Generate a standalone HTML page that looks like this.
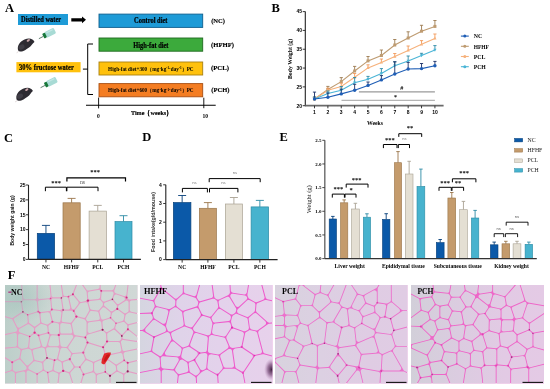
<!DOCTYPE html>
<html><head><meta charset="utf-8"><style>
html,body{margin:0;padding:0;background:#fff;}
svg{display:block;will-change:transform;}
</style></head><body>
<svg width="550" height="389" viewBox="0 0 550 389">
<rect width="550" height="389" fill="#fff"/>
<text x="5.00" y="11.60" font-size="12.5" font-family='"Liberation Serif", serif' font-weight="bold" fill="#000" text-anchor="start" >A</text>
<rect x="18.00" y="14.00" width="50.00" height="11.00" fill="#1E9BD7" />
<text x="21.00" y="22.10" font-size="7.3" font-family='"Liberation Serif", serif' font-weight="bold" fill="#000" text-anchor="start"  textLength="40.20" lengthAdjust="spacingAndGlyphs" stroke="#000" stroke-width="0.2">Distilled water</text>
<path d="M71.3,18.2 H82 V16.4 L86,19.8 L82,23.2 V21.5 H71.3 Z" fill="#000"/>
<rect x="99.00" y="14.10" width="103.70" height="13.30" fill="#1E9BD7" stroke="#0E5F8E" stroke-width="0.9" />
<text x="134.00" y="23.30" font-size="7.2" font-family='"Liberation Serif", serif' font-weight="bold" fill="#000" text-anchor="start"  textLength="33.50" lengthAdjust="spacingAndGlyphs" stroke="#000" stroke-width="0.2">Control diet</text>
<rect x="99.00" y="38.00" width="103.70" height="13.20" fill="#3CAA3C" stroke="#1F6A1F" stroke-width="0.9" />
<text x="133.30" y="47.50" font-size="7.2" font-family='"Liberation Serif", serif' font-weight="bold" fill="#000" text-anchor="start"  textLength="35.20" lengthAdjust="spacingAndGlyphs" stroke="#000" stroke-width="0.2">High-fat diet</text>
<rect x="99.00" y="62.00" width="103.70" height="13.00" fill="#FFC10D" stroke="#A88010" stroke-width="0.9" />
<text x="150.85" y="70.60" font-size="5.2" font-family='"Liberation Serif", serif' font-weight="bold" fill="#000" text-anchor="middle" >High-fat diet+300（mg·kg<tspan dy="-1.6" font-size="3.3">-1</tspan><tspan dy="1.6">·day</tspan><tspan dy="-1.6" font-size="3.3">-1</tspan><tspan dy="1.6">）PC</tspan></text>
<rect x="99.00" y="83.60" width="103.70" height="13.20" fill="#F47D22" stroke="#A84E12" stroke-width="0.9" />
<text x="150.85" y="92.40" font-size="5.2" font-family='"Liberation Serif", serif' font-weight="bold" fill="#000" text-anchor="middle" >High-fat diet+600（mg·kg<tspan dy="-1.6" font-size="3.3">-1</tspan><tspan dy="1.6">·day</tspan><tspan dy="-1.6" font-size="3.3">-1</tspan><tspan dy="1.6">）PC</tspan></text>
<text x="211.20" y="22.50" font-size="7.0" font-family='"Liberation Serif", serif' font-weight="bold" fill="#000" text-anchor="start"  textLength="13.80" lengthAdjust="spacingAndGlyphs" stroke="#000" stroke-width="0.15">(NC)</text>
<text x="211.00" y="47.30" font-size="7.0" font-family='"Liberation Serif", serif' font-weight="bold" fill="#000" text-anchor="start"  textLength="23.00" lengthAdjust="spacingAndGlyphs" stroke="#000" stroke-width="0.15">(HFHF)</text>
<text x="210.90" y="70.20" font-size="7.0" font-family='"Liberation Serif", serif' font-weight="bold" fill="#000" text-anchor="start"  textLength="18.20" lengthAdjust="spacingAndGlyphs" stroke="#000" stroke-width="0.15">(PCL)</text>
<text x="211.20" y="91.90" font-size="7.0" font-family='"Liberation Serif", serif' font-weight="bold" fill="#000" text-anchor="start"  textLength="18.30" lengthAdjust="spacingAndGlyphs" stroke="#000" stroke-width="0.15">(PCH)</text>
<rect x="16.40" y="62.10" width="64.20" height="10.20" fill="#FFC10D" />
<text x="19.10" y="69.80" font-size="7.4" font-family='"Liberation Serif", serif' font-weight="bold" fill="#000" text-anchor="start"  textLength="54.70" lengthAdjust="spacingAndGlyphs" stroke="#000" stroke-width="0.2">30% fructose water</text>
<path d="M93,44 H87.7 V94.5 H93 M82.9,69.1 H87.7" fill="none" stroke="#000" stroke-width="1"/>
<line x1="86.00" y1="105.20" x2="215.70" y2="105.20" stroke="#000" stroke-width="1.1" />
<line x1="98.60" y1="97.60" x2="98.60" y2="108.40" stroke="#000" stroke-width="0.9" />
<line x1="203.80" y1="97.70" x2="203.80" y2="108.20" stroke="#000" stroke-width="0.9" />
<text x="98.30" y="117.60" font-size="5.6" font-family='"Liberation Serif", serif' font-weight="bold" fill="#000" text-anchor="middle" >0</text>
<text x="205.30" y="117.70" font-size="5.6" font-family='"Liberation Serif", serif' font-weight="bold" fill="#000" text-anchor="middle" >10</text>
<text x="130.90" y="114.80" font-size="7.0" font-family='"Liberation Serif", serif' font-weight="bold" fill="#000" text-anchor="start"  textLength="41.50" lengthAdjust="spacingAndGlyphs" stroke="#000" stroke-width="0.15">Time（weeks）</text>
<g transform="translate(0.00,0.00)"><path d="M18.2,50.5 C16.8,46.5 19.5,41.8 24.5,39.6 C27.5,38.3 30.5,38.2 32.3,39.6 C33.5,40.3 34.3,41.2 34.4,41.9 C33.6,42.6 32.6,43.6 31.8,44.8 C30.5,46.8 28,48.5 25,50.2 C22.5,51.6 19.5,52.2 18.2,50.5 Z" fill="#2D2B32"/><ellipse cx="21.5" cy="47" rx="3.2" ry="2.4" fill="#4B4951" opacity="0.6" transform="rotate(-30 21.5 47)"/><ellipse cx="28.3" cy="40.4" rx="1.8" ry="1.1" fill="#C7A3A7" transform="rotate(-35 28.3 40.4)"/><path d="M18.6,51.4 L16.6,52.8" stroke="#cbbcbc" stroke-width="0.6"/></g>
<g transform="translate(44.50,35.60) rotate(-27)"><rect x="1.2" y="-3.1" width="10.4" height="6.2" rx="1.3" fill="#A8DBD5"/><rect x="3" y="-2.2" width="7" height="1.2" fill="#CDEDEA" opacity="0.7"/><rect x="-1.4" y="-2.6" width="3.0" height="5.2" rx="0.9" fill="#18783B"/><line x1="-1.4" y1="0.2" x2="-6.4" y2="0.2" stroke="#4C6E5E" stroke-width="0.8"/></g>
<g transform="translate(-1.50,49.20)"><path d="M18.2,50.5 C16.8,46.5 19.5,41.8 24.5,39.6 C27.5,38.3 30.5,38.2 32.3,39.6 C33.5,40.3 34.3,41.2 34.4,41.9 C33.6,42.6 32.6,43.6 31.8,44.8 C30.5,46.8 28,48.5 25,50.2 C22.5,51.6 19.5,52.2 18.2,50.5 Z" fill="#2D2B32"/><ellipse cx="21.5" cy="47" rx="3.2" ry="2.4" fill="#4B4951" opacity="0.6" transform="rotate(-30 21.5 47)"/><ellipse cx="28.3" cy="40.4" rx="1.8" ry="1.1" fill="#C7A3A7" transform="rotate(-35 28.3 40.4)"/><path d="M18.6,51.4 L16.6,52.8" stroke="#cbbcbc" stroke-width="0.6"/></g>
<g transform="translate(46.20,84.60) rotate(-27)"><rect x="1.2" y="-3.1" width="10.4" height="6.2" rx="1.3" fill="#A8DBD5"/><rect x="3" y="-2.2" width="7" height="1.2" fill="#CDEDEA" opacity="0.7"/><rect x="-1.4" y="-2.6" width="3.0" height="5.2" rx="0.9" fill="#18783B"/><line x1="-1.4" y1="0.2" x2="-6.4" y2="0.2" stroke="#4C6E5E" stroke-width="0.8"/></g>
<text x="271.40" y="12.30" font-size="12.5" font-family='"Liberation Serif", serif' font-weight="bold" fill="#000" text-anchor="start" >B</text>
<line x1="305.30" y1="11.60" x2="305.30" y2="106.30" stroke="#222" stroke-width="1.1" />
<line x1="302.70" y1="105.70" x2="305.30" y2="105.70" stroke="#222" stroke-width="0.9" />
<text x="302.10" y="107.50" font-size="5.0" font-family='"Liberation Sans", sans-serif' font-weight="bold" fill="#000" text-anchor="end" >20</text>
<line x1="302.70" y1="86.88" x2="305.30" y2="86.88" stroke="#222" stroke-width="0.9" />
<text x="302.10" y="88.68" font-size="5.0" font-family='"Liberation Sans", sans-serif' font-weight="bold" fill="#000" text-anchor="end" >25</text>
<line x1="302.70" y1="68.06" x2="305.30" y2="68.06" stroke="#222" stroke-width="0.9" />
<text x="302.10" y="69.86" font-size="5.0" font-family='"Liberation Sans", sans-serif' font-weight="bold" fill="#000" text-anchor="end" >30</text>
<line x1="302.70" y1="49.24" x2="305.30" y2="49.24" stroke="#222" stroke-width="0.9" />
<text x="302.10" y="51.04" font-size="5.0" font-family='"Liberation Sans", sans-serif' font-weight="bold" fill="#000" text-anchor="end" >35</text>
<line x1="302.70" y1="30.42" x2="305.30" y2="30.42" stroke="#222" stroke-width="0.9" />
<text x="302.10" y="32.22" font-size="5.0" font-family='"Liberation Sans", sans-serif' font-weight="bold" fill="#000" text-anchor="end" >40</text>
<line x1="302.70" y1="11.60" x2="305.30" y2="11.60" stroke="#222" stroke-width="0.9" />
<text x="302.10" y="13.40" font-size="5.0" font-family='"Liberation Sans", sans-serif' font-weight="bold" fill="#000" text-anchor="end" >45</text>
<line x1="305.30" y1="105.70" x2="443.60" y2="105.70" stroke="#6a6a6a" stroke-width="1.7" />
<line x1="314.50" y1="105.70" x2="314.50" y2="108.30" stroke="#222" stroke-width="0.9" />
<text x="314.50" y="114.10" font-size="5.0" font-family='"Liberation Sans", sans-serif' font-weight="bold" fill="#000" text-anchor="middle" >1</text>
<line x1="327.88" y1="105.70" x2="327.88" y2="108.30" stroke="#222" stroke-width="0.9" />
<text x="327.88" y="114.10" font-size="5.0" font-family='"Liberation Sans", sans-serif' font-weight="bold" fill="#000" text-anchor="middle" >2</text>
<line x1="341.26" y1="105.70" x2="341.26" y2="108.30" stroke="#222" stroke-width="0.9" />
<text x="341.26" y="114.10" font-size="5.0" font-family='"Liberation Sans", sans-serif' font-weight="bold" fill="#000" text-anchor="middle" >3</text>
<line x1="354.64" y1="105.70" x2="354.64" y2="108.30" stroke="#222" stroke-width="0.9" />
<text x="354.64" y="114.10" font-size="5.0" font-family='"Liberation Sans", sans-serif' font-weight="bold" fill="#000" text-anchor="middle" >4</text>
<line x1="368.02" y1="105.70" x2="368.02" y2="108.30" stroke="#222" stroke-width="0.9" />
<text x="368.02" y="114.10" font-size="5.0" font-family='"Liberation Sans", sans-serif' font-weight="bold" fill="#000" text-anchor="middle" >5</text>
<line x1="381.40" y1="105.70" x2="381.40" y2="108.30" stroke="#222" stroke-width="0.9" />
<text x="381.40" y="114.10" font-size="5.0" font-family='"Liberation Sans", sans-serif' font-weight="bold" fill="#000" text-anchor="middle" >6</text>
<line x1="394.78" y1="105.70" x2="394.78" y2="108.30" stroke="#222" stroke-width="0.9" />
<text x="394.78" y="114.10" font-size="5.0" font-family='"Liberation Sans", sans-serif' font-weight="bold" fill="#000" text-anchor="middle" >7</text>
<line x1="408.16" y1="105.70" x2="408.16" y2="108.30" stroke="#222" stroke-width="0.9" />
<text x="408.16" y="114.10" font-size="5.0" font-family='"Liberation Sans", sans-serif' font-weight="bold" fill="#000" text-anchor="middle" >8</text>
<line x1="421.54" y1="105.70" x2="421.54" y2="108.30" stroke="#222" stroke-width="0.9" />
<text x="421.54" y="114.10" font-size="5.0" font-family='"Liberation Sans", sans-serif' font-weight="bold" fill="#000" text-anchor="middle" >9</text>
<line x1="434.92" y1="105.70" x2="434.92" y2="108.30" stroke="#222" stroke-width="0.9" />
<text x="434.92" y="114.10" font-size="5.0" font-family='"Liberation Sans", sans-serif' font-weight="bold" fill="#000" text-anchor="middle" >10</text>
<text x="375.00" y="125.40" font-size="5.8" font-family='"Liberation Serif", serif' font-weight="bold" fill="#000" text-anchor="middle" >Weeks</text>
<text transform="translate(291.6,59) rotate(-90)" font-size="5.8" font-family='"Liberation Serif", serif' font-weight="bold" text-anchor="middle">Body Weight (g)</text>
<line x1="358.90" y1="91.90" x2="434.90" y2="91.90" stroke="#9a9a9a" stroke-width="1.3" />
<line x1="341.50" y1="100.40" x2="434.90" y2="100.40" stroke="#b4b4b4" stroke-width="1.1" />
<text x="401.80" y="89.60" font-size="5.6" font-family='"Liberation Sans", sans-serif' font-weight="bold" fill="#000" text-anchor="middle" >#</text>
<text x="395.40" y="99.40" font-size="6.0" font-family='"Liberation Serif", serif' font-weight="bold" fill="#000" text-anchor="middle" >*</text>
<line x1="314.50" y1="97.00" x2="314.50" y2="99.00" stroke="#9C7A50" stroke-width="0.9" />
<line x1="312.90" y1="97.00" x2="316.10" y2="97.00" stroke="#9C7A50" stroke-width="0.9" />
<line x1="327.88" y1="86.40" x2="327.88" y2="89.50" stroke="#9C7A50" stroke-width="0.9" />
<line x1="326.28" y1="86.40" x2="329.48" y2="86.40" stroke="#9C7A50" stroke-width="0.9" />
<line x1="341.26" y1="77.60" x2="341.26" y2="81.60" stroke="#9C7A50" stroke-width="0.9" />
<line x1="339.66" y1="77.60" x2="342.86" y2="77.60" stroke="#9C7A50" stroke-width="0.9" />
<line x1="354.64" y1="66.40" x2="354.64" y2="71.00" stroke="#9C7A50" stroke-width="0.9" />
<line x1="353.04" y1="66.40" x2="356.24" y2="66.40" stroke="#9C7A50" stroke-width="0.9" />
<line x1="368.02" y1="56.50" x2="368.02" y2="60.90" stroke="#9C7A50" stroke-width="0.9" />
<line x1="366.42" y1="56.50" x2="369.62" y2="56.50" stroke="#9C7A50" stroke-width="0.9" />
<line x1="381.40" y1="50.00" x2="381.40" y2="55.50" stroke="#9C7A50" stroke-width="0.9" />
<line x1="379.80" y1="50.00" x2="383.00" y2="50.00" stroke="#9C7A50" stroke-width="0.9" />
<line x1="394.78" y1="39.50" x2="394.78" y2="45.00" stroke="#9C7A50" stroke-width="0.9" />
<line x1="393.18" y1="39.50" x2="396.38" y2="39.50" stroke="#9C7A50" stroke-width="0.9" />
<line x1="408.16" y1="31.80" x2="408.16" y2="38.00" stroke="#9C7A50" stroke-width="0.9" />
<line x1="406.56" y1="31.80" x2="409.76" y2="31.80" stroke="#9C7A50" stroke-width="0.9" />
<line x1="421.54" y1="25.30" x2="421.54" y2="31.20" stroke="#9C7A50" stroke-width="0.9" />
<line x1="419.94" y1="25.30" x2="423.14" y2="25.30" stroke="#9C7A50" stroke-width="0.9" />
<line x1="434.92" y1="20.50" x2="434.92" y2="26.40" stroke="#9C7A50" stroke-width="0.9" />
<line x1="433.32" y1="20.50" x2="436.52" y2="20.50" stroke="#9C7A50" stroke-width="0.9" />
<polyline points="314.50,99.00 327.88,89.50 341.26,81.60 354.64,71.00 368.02,60.90 381.40,55.50 394.78,45.00 408.16,38.00 421.54,31.20 434.92,26.40" fill="none" stroke="#BE9B71" stroke-width="1.1"/>
<rect x="313.00" y="97.50" width="3" height="3" fill="#BE9B71"/>
<rect x="326.38" y="88.00" width="3" height="3" fill="#BE9B71"/>
<rect x="339.76" y="80.10" width="3" height="3" fill="#BE9B71"/>
<rect x="353.14" y="69.50" width="3" height="3" fill="#BE9B71"/>
<rect x="366.52" y="59.40" width="3" height="3" fill="#BE9B71"/>
<rect x="379.90" y="54.00" width="3" height="3" fill="#BE9B71"/>
<rect x="393.28" y="43.50" width="3" height="3" fill="#BE9B71"/>
<rect x="406.66" y="36.50" width="3" height="3" fill="#BE9B71"/>
<rect x="420.04" y="29.70" width="3" height="3" fill="#BE9B71"/>
<rect x="433.42" y="24.90" width="3" height="3" fill="#BE9B71"/>
<line x1="314.50" y1="97.50" x2="314.50" y2="99.00" stroke="#F39A5A" stroke-width="0.9" />
<line x1="312.90" y1="97.50" x2="316.10" y2="97.50" stroke="#F39A5A" stroke-width="0.9" />
<line x1="327.88" y1="88.20" x2="327.88" y2="90.20" stroke="#F39A5A" stroke-width="0.9" />
<line x1="326.28" y1="88.20" x2="329.48" y2="88.20" stroke="#F39A5A" stroke-width="0.9" />
<line x1="341.26" y1="83.20" x2="341.26" y2="86.50" stroke="#F39A5A" stroke-width="0.9" />
<line x1="339.66" y1="83.20" x2="342.86" y2="83.20" stroke="#F39A5A" stroke-width="0.9" />
<line x1="354.64" y1="73.50" x2="354.64" y2="77.30" stroke="#F39A5A" stroke-width="0.9" />
<line x1="353.04" y1="73.50" x2="356.24" y2="73.50" stroke="#F39A5A" stroke-width="0.9" />
<line x1="368.02" y1="64.80" x2="368.02" y2="67.90" stroke="#F39A5A" stroke-width="0.9" />
<line x1="366.42" y1="64.80" x2="369.62" y2="64.80" stroke="#F39A5A" stroke-width="0.9" />
<line x1="381.40" y1="59.00" x2="381.40" y2="62.40" stroke="#F39A5A" stroke-width="0.9" />
<line x1="379.80" y1="59.00" x2="383.00" y2="59.00" stroke="#F39A5A" stroke-width="0.9" />
<line x1="394.78" y1="53.50" x2="394.78" y2="56.50" stroke="#F39A5A" stroke-width="0.9" />
<line x1="393.18" y1="53.50" x2="396.38" y2="53.50" stroke="#F39A5A" stroke-width="0.9" />
<line x1="408.16" y1="46.00" x2="408.16" y2="50.40" stroke="#F39A5A" stroke-width="0.9" />
<line x1="406.56" y1="46.00" x2="409.76" y2="46.00" stroke="#F39A5A" stroke-width="0.9" />
<line x1="421.54" y1="40.60" x2="421.54" y2="44.30" stroke="#F39A5A" stroke-width="0.9" />
<line x1="419.94" y1="40.60" x2="423.14" y2="40.60" stroke="#F39A5A" stroke-width="0.9" />
<line x1="434.92" y1="34.00" x2="434.92" y2="38.40" stroke="#F39A5A" stroke-width="0.9" />
<line x1="433.32" y1="34.00" x2="436.52" y2="34.00" stroke="#F39A5A" stroke-width="0.9" />
<polyline points="314.50,99.00 327.88,90.20 341.26,86.50 354.64,77.30 368.02,67.90 381.40,62.40 394.78,56.50 408.16,50.40 421.54,44.30 434.92,38.40" fill="none" stroke="#F6B17B" stroke-width="1.1"/>
<path d="M314.50,97.20 L316.10,100.20 L312.90,100.20 Z" fill="#F6B17B"/>
<path d="M327.88,88.40 L329.48,91.40 L326.28,91.40 Z" fill="#F6B17B"/>
<path d="M341.26,84.70 L342.86,87.70 L339.66,87.70 Z" fill="#F6B17B"/>
<path d="M354.64,75.50 L356.24,78.50 L353.04,78.50 Z" fill="#F6B17B"/>
<path d="M368.02,66.10 L369.62,69.10 L366.42,69.10 Z" fill="#F6B17B"/>
<path d="M381.40,60.60 L383.00,63.60 L379.80,63.60 Z" fill="#F6B17B"/>
<path d="M394.78,54.70 L396.38,57.70 L393.18,57.70 Z" fill="#F6B17B"/>
<path d="M408.16,48.60 L409.76,51.60 L406.56,51.60 Z" fill="#F6B17B"/>
<path d="M421.54,42.50 L423.14,45.50 L419.94,45.50 Z" fill="#F6B17B"/>
<path d="M434.92,36.60 L436.52,39.60 L433.32,39.60 Z" fill="#F6B17B"/>
<line x1="314.50" y1="97.00" x2="314.50" y2="99.00" stroke="#2E8AA6" stroke-width="0.9" />
<line x1="312.90" y1="97.00" x2="316.10" y2="97.00" stroke="#2E8AA6" stroke-width="0.9" />
<line x1="327.88" y1="91.00" x2="327.88" y2="93.50" stroke="#2E8AA6" stroke-width="0.9" />
<line x1="326.28" y1="91.00" x2="329.48" y2="91.00" stroke="#2E8AA6" stroke-width="0.9" />
<line x1="341.26" y1="86.50" x2="341.26" y2="90.30" stroke="#2E8AA6" stroke-width="0.9" />
<line x1="339.66" y1="86.50" x2="342.86" y2="86.50" stroke="#2E8AA6" stroke-width="0.9" />
<line x1="354.64" y1="77.50" x2="354.64" y2="82.80" stroke="#2E8AA6" stroke-width="0.9" />
<line x1="353.04" y1="77.50" x2="356.24" y2="77.50" stroke="#2E8AA6" stroke-width="0.9" />
<line x1="368.02" y1="76.40" x2="368.02" y2="79.20" stroke="#2E8AA6" stroke-width="0.9" />
<line x1="366.42" y1="76.40" x2="369.62" y2="76.40" stroke="#2E8AA6" stroke-width="0.9" />
<line x1="381.40" y1="68.60" x2="381.40" y2="73.40" stroke="#2E8AA6" stroke-width="0.9" />
<line x1="379.80" y1="68.60" x2="383.00" y2="68.60" stroke="#2E8AA6" stroke-width="0.9" />
<line x1="394.78" y1="61.80" x2="394.78" y2="65.70" stroke="#2E8AA6" stroke-width="0.9" />
<line x1="393.18" y1="61.80" x2="396.38" y2="61.80" stroke="#2E8AA6" stroke-width="0.9" />
<line x1="408.16" y1="56.00" x2="408.16" y2="60.90" stroke="#2E8AA6" stroke-width="0.9" />
<line x1="406.56" y1="56.00" x2="409.76" y2="56.00" stroke="#2E8AA6" stroke-width="0.9" />
<line x1="421.54" y1="53.30" x2="421.54" y2="55.50" stroke="#2E8AA6" stroke-width="0.9" />
<line x1="419.94" y1="53.30" x2="423.14" y2="53.30" stroke="#2E8AA6" stroke-width="0.9" />
<line x1="434.92" y1="45.60" x2="434.92" y2="50.00" stroke="#2E8AA6" stroke-width="0.9" />
<line x1="433.32" y1="45.60" x2="436.52" y2="45.60" stroke="#2E8AA6" stroke-width="0.9" />
<polyline points="314.50,99.00 327.88,93.50 341.26,90.30 354.64,82.80 368.02,79.20 381.40,73.40 394.78,65.70 408.16,60.90 421.54,55.50 434.92,50.00" fill="none" stroke="#4BB5D6" stroke-width="1.1"/>
<path d="M314.50,100.80 L316.10,97.80 L312.90,97.80 Z" fill="#4BB5D6"/>
<path d="M327.88,95.30 L329.48,92.30 L326.28,92.30 Z" fill="#4BB5D6"/>
<path d="M341.26,92.10 L342.86,89.10 L339.66,89.10 Z" fill="#4BB5D6"/>
<path d="M354.64,84.60 L356.24,81.60 L353.04,81.60 Z" fill="#4BB5D6"/>
<path d="M368.02,81.00 L369.62,78.00 L366.42,78.00 Z" fill="#4BB5D6"/>
<path d="M381.40,75.20 L383.00,72.20 L379.80,72.20 Z" fill="#4BB5D6"/>
<path d="M394.78,67.50 L396.38,64.50 L393.18,64.50 Z" fill="#4BB5D6"/>
<path d="M408.16,62.70 L409.76,59.70 L406.56,59.70 Z" fill="#4BB5D6"/>
<path d="M421.54,57.30 L423.14,54.30 L419.94,54.30 Z" fill="#4BB5D6"/>
<path d="M434.92,51.80 L436.52,48.80 L433.32,48.80 Z" fill="#4BB5D6"/>
<line x1="314.50" y1="92.10" x2="314.50" y2="99.00" stroke="#1A2F66" stroke-width="0.9" />
<line x1="312.90" y1="92.10" x2="316.10" y2="92.10" stroke="#1A2F66" stroke-width="0.9" />
<line x1="327.88" y1="93.00" x2="327.88" y2="97.20" stroke="#1A2F66" stroke-width="0.9" />
<line x1="326.28" y1="93.00" x2="329.48" y2="93.00" stroke="#1A2F66" stroke-width="0.9" />
<line x1="341.26" y1="89.10" x2="341.26" y2="93.90" stroke="#1A2F66" stroke-width="0.9" />
<line x1="339.66" y1="89.10" x2="342.86" y2="89.10" stroke="#1A2F66" stroke-width="0.9" />
<line x1="354.64" y1="84.30" x2="354.64" y2="90.20" stroke="#1A2F66" stroke-width="0.9" />
<line x1="353.04" y1="84.30" x2="356.24" y2="84.30" stroke="#1A2F66" stroke-width="0.9" />
<line x1="368.02" y1="82.00" x2="368.02" y2="85.40" stroke="#1A2F66" stroke-width="0.9" />
<line x1="366.42" y1="82.00" x2="369.62" y2="82.00" stroke="#1A2F66" stroke-width="0.9" />
<line x1="381.40" y1="75.60" x2="381.40" y2="79.90" stroke="#1A2F66" stroke-width="0.9" />
<line x1="379.80" y1="75.60" x2="383.00" y2="75.60" stroke="#1A2F66" stroke-width="0.9" />
<line x1="394.78" y1="61.80" x2="394.78" y2="74.00" stroke="#1A2F66" stroke-width="0.9" />
<line x1="393.18" y1="61.80" x2="396.38" y2="61.80" stroke="#1A2F66" stroke-width="0.9" />
<line x1="408.16" y1="62.40" x2="408.16" y2="69.00" stroke="#1A2F66" stroke-width="0.9" />
<line x1="406.56" y1="62.40" x2="409.76" y2="62.40" stroke="#1A2F66" stroke-width="0.9" />
<line x1="421.54" y1="63.50" x2="421.54" y2="68.60" stroke="#1A2F66" stroke-width="0.9" />
<line x1="419.94" y1="63.50" x2="423.14" y2="63.50" stroke="#1A2F66" stroke-width="0.9" />
<line x1="434.92" y1="61.40" x2="434.92" y2="65.70" stroke="#1A2F66" stroke-width="0.9" />
<line x1="433.32" y1="61.40" x2="436.52" y2="61.40" stroke="#1A2F66" stroke-width="0.9" />
<polyline points="314.50,99.00 327.88,97.20 341.26,93.90 354.64,90.20 368.02,85.40 381.40,79.90 394.78,74.00 408.16,69.00 421.54,68.60 434.92,65.70" fill="none" stroke="#1F5EB5" stroke-width="1.1"/>
<circle cx="314.50" cy="99.00" r="1.7" fill="#1F5EB5"/>
<circle cx="327.88" cy="97.20" r="1.7" fill="#1F5EB5"/>
<circle cx="341.26" cy="93.90" r="1.7" fill="#1F5EB5"/>
<circle cx="354.64" cy="90.20" r="1.7" fill="#1F5EB5"/>
<circle cx="368.02" cy="85.40" r="1.7" fill="#1F5EB5"/>
<circle cx="381.40" cy="79.90" r="1.7" fill="#1F5EB5"/>
<circle cx="394.78" cy="74.00" r="1.7" fill="#1F5EB5"/>
<circle cx="408.16" cy="69.00" r="1.7" fill="#1F5EB5"/>
<circle cx="421.54" cy="68.60" r="1.7" fill="#1F5EB5"/>
<circle cx="434.92" cy="65.70" r="1.7" fill="#1F5EB5"/>
<line x1="460.90" y1="36.10" x2="468.80" y2="36.10" stroke="#1F5EB5" stroke-width="1.1" />
<circle cx="464.8" cy="36.1" r="1.5" fill="#1F5EB5"/>
<text x="473.70" y="38.30" font-size="6.3" font-family='"Liberation Serif", serif' font-weight="bold" fill="#000" text-anchor="start"  textLength="8.40" lengthAdjust="spacingAndGlyphs">NC</text>
<line x1="460.90" y1="46.30" x2="468.80" y2="46.30" stroke="#BE9B71" stroke-width="1.1" />
<circle cx="464.8" cy="46.3" r="1.5" fill="#BE9B71"/>
<text x="473.70" y="48.50" font-size="6.3" font-family='"Liberation Serif", serif' font-weight="bold" fill="#000" text-anchor="start"  textLength="15.20" lengthAdjust="spacingAndGlyphs">HFHF</text>
<line x1="460.90" y1="56.50" x2="468.80" y2="56.50" stroke="#F6B17B" stroke-width="1.1" />
<circle cx="464.8" cy="56.5" r="1.5" fill="#F6B17B"/>
<text x="473.70" y="58.70" font-size="6.3" font-family='"Liberation Serif", serif' font-weight="bold" fill="#000" text-anchor="start"  textLength="11.80" lengthAdjust="spacingAndGlyphs">PCL</text>
<line x1="460.90" y1="66.70" x2="468.80" y2="66.70" stroke="#4BB5D6" stroke-width="1.1" />
<circle cx="464.8" cy="66.7" r="1.5" fill="#4BB5D6"/>
<text x="473.70" y="68.90" font-size="6.3" font-family='"Liberation Serif", serif' font-weight="bold" fill="#000" text-anchor="start"  textLength="12.10" lengthAdjust="spacingAndGlyphs">PCH</text>
<text x="3.90" y="141.70" font-size="12.5" font-family='"Liberation Serif", serif' font-weight="bold" fill="#000" text-anchor="start" >C</text>
<line x1="28.50" y1="185.00" x2="28.50" y2="259.40" stroke="#222" stroke-width="1.1" />
<line x1="26.00" y1="259.40" x2="28.50" y2="259.40" stroke="#222" stroke-width="0.9" />
<text x="25.50" y="261.20" font-size="5.0" font-family='"Liberation Sans", sans-serif' font-weight="bold" fill="#000" text-anchor="end" >0</text>
<line x1="26.00" y1="244.52" x2="28.50" y2="244.52" stroke="#222" stroke-width="0.9" />
<text x="25.50" y="246.32" font-size="5.0" font-family='"Liberation Sans", sans-serif' font-weight="bold" fill="#000" text-anchor="end" >5</text>
<line x1="26.00" y1="229.64" x2="28.50" y2="229.64" stroke="#222" stroke-width="0.9" />
<text x="25.50" y="231.44" font-size="5.0" font-family='"Liberation Sans", sans-serif' font-weight="bold" fill="#000" text-anchor="end" >10</text>
<line x1="26.00" y1="214.76" x2="28.50" y2="214.76" stroke="#222" stroke-width="0.9" />
<text x="25.50" y="216.56" font-size="5.0" font-family='"Liberation Sans", sans-serif' font-weight="bold" fill="#000" text-anchor="end" >15</text>
<line x1="26.00" y1="199.88" x2="28.50" y2="199.88" stroke="#222" stroke-width="0.9" />
<text x="25.50" y="201.68" font-size="5.0" font-family='"Liberation Sans", sans-serif' font-weight="bold" fill="#000" text-anchor="end" >20</text>
<line x1="26.00" y1="185.00" x2="28.50" y2="185.00" stroke="#222" stroke-width="0.9" />
<text x="25.50" y="186.80" font-size="5.0" font-family='"Liberation Sans", sans-serif' font-weight="bold" fill="#000" text-anchor="end" >25</text>
<line x1="45.95" y1="225.40" x2="45.95" y2="233.40" stroke="#07407A" stroke-width="0.9" />
<line x1="41.95" y1="225.40" x2="49.95" y2="225.40" stroke="#07407A" stroke-width="0.9" />
<rect x="37.30" y="233.40" width="17.30" height="26.00" fill="#0B59A8" stroke="#07407A" stroke-width="0.7" />
<line x1="71.60" y1="198.40" x2="71.60" y2="202.80" stroke="#9A7549" stroke-width="0.9" />
<line x1="67.60" y1="198.40" x2="75.60" y2="198.40" stroke="#9A7549" stroke-width="0.9" />
<rect x="63.00" y="202.80" width="17.20" height="56.60" fill="#C49B6C" stroke="#9A7549" stroke-width="0.7" />
<line x1="97.75" y1="205.40" x2="97.75" y2="211.10" stroke="#A9A293" stroke-width="0.9" />
<line x1="93.75" y1="205.40" x2="101.75" y2="205.40" stroke="#A9A293" stroke-width="0.9" />
<rect x="89.10" y="211.10" width="17.30" height="48.30" fill="#E4DFD3" stroke="#A9A293" stroke-width="0.7" />
<line x1="123.50" y1="215.70" x2="123.50" y2="221.60" stroke="#2C8BA5" stroke-width="0.9" />
<line x1="119.50" y1="215.70" x2="127.50" y2="215.70" stroke="#2C8BA5" stroke-width="0.9" />
<rect x="115.00" y="221.60" width="17.00" height="37.80" fill="#47B3CE" stroke="#2C8BA5" stroke-width="0.7" />
<line x1="28.50" y1="259.40" x2="140.90" y2="259.40" stroke="#222" stroke-width="1.2" />
<line x1="45.95" y1="259.40" x2="45.95" y2="262.40" stroke="#222" stroke-width="0.9" />
<text x="45.95" y="268.80" font-size="5.6" font-family='"Liberation Serif", serif' font-weight="bold" fill="#000" text-anchor="middle" >NC</text>
<line x1="71.60" y1="259.40" x2="71.60" y2="262.40" stroke="#222" stroke-width="0.9" />
<text x="71.60" y="268.80" font-size="5.6" font-family='"Liberation Serif", serif' font-weight="bold" fill="#000" text-anchor="middle" >HFHF</text>
<line x1="97.75" y1="259.40" x2="97.75" y2="262.40" stroke="#222" stroke-width="0.9" />
<text x="97.75" y="268.80" font-size="5.6" font-family='"Liberation Serif", serif' font-weight="bold" fill="#000" text-anchor="middle" >PCL</text>
<line x1="123.50" y1="259.40" x2="123.50" y2="262.40" stroke="#222" stroke-width="0.9" />
<text x="123.50" y="268.80" font-size="5.6" font-family='"Liberation Serif", serif' font-weight="bold" fill="#000" text-anchor="middle" >PCH</text>
<text transform="translate(14.2,220.5) rotate(-90)" font-size="5.3" font-family='"Liberation Sans", sans-serif' font-weight="bold" fill="#111" text-anchor="middle" textLength="50.2" lengthAdjust="spacingAndGlyphs">Body weight gain (g)</text>
<path d="M45.40,191.20 V187.20 H66.40 V191.20" fill="none" stroke="#000" stroke-width="1.0"/>
<text x="56.10" y="184.50" font-size="6.5" font-family='"Liberation Serif", serif' font-weight="bold" fill="#000" text-anchor="middle" >***</text>
<path d="M66.90,191.20 V187.20 H98.00 V191.20" fill="none" stroke="#000" stroke-width="1.0"/>
<text x="82.50" y="183.60" font-size="7.0" font-family='"Liberation Serif", serif' font-weight="normal" fill="#555" text-anchor="middle"  textLength="5.10" lengthAdjust="spacingAndGlyphs">ns</text>
<path d="M66.90,181.40 V177.80 H125.50 V181.40" fill="none" stroke="#000" stroke-width="1.2"/>
<text x="95.20" y="174.40" font-size="6.5" font-family='"Liberation Serif", serif' font-weight="bold" fill="#000" text-anchor="middle" >***</text>
<text x="142.30" y="140.50" font-size="12.5" font-family='"Liberation Serif", serif' font-weight="bold" fill="#000" text-anchor="start" >D</text>
<line x1="165.80" y1="184.80" x2="165.80" y2="259.60" stroke="#222" stroke-width="1.1" />
<line x1="163.20" y1="259.60" x2="165.80" y2="259.60" stroke="#222" stroke-width="0.9" />
<text x="161.80" y="261.40" font-size="5.0" font-family='"Liberation Sans", sans-serif' font-weight="bold" fill="#000" text-anchor="end" >0</text>
<line x1="163.20" y1="240.90" x2="165.80" y2="240.90" stroke="#222" stroke-width="0.9" />
<text x="161.80" y="242.70" font-size="5.0" font-family='"Liberation Sans", sans-serif' font-weight="bold" fill="#000" text-anchor="end" >1</text>
<line x1="163.20" y1="222.20" x2="165.80" y2="222.20" stroke="#222" stroke-width="0.9" />
<text x="161.80" y="224.00" font-size="5.0" font-family='"Liberation Sans", sans-serif' font-weight="bold" fill="#000" text-anchor="end" >2</text>
<line x1="163.20" y1="203.50" x2="165.80" y2="203.50" stroke="#222" stroke-width="0.9" />
<text x="161.80" y="205.30" font-size="5.0" font-family='"Liberation Sans", sans-serif' font-weight="bold" fill="#000" text-anchor="end" >3</text>
<line x1="163.20" y1="184.80" x2="165.80" y2="184.80" stroke="#222" stroke-width="0.9" />
<text x="161.80" y="186.60" font-size="5.0" font-family='"Liberation Sans", sans-serif' font-weight="bold" fill="#000" text-anchor="end" >4</text>
<line x1="182.15" y1="195.50" x2="182.15" y2="202.60" stroke="#07407A" stroke-width="0.9" />
<line x1="178.15" y1="195.50" x2="186.15" y2="195.50" stroke="#07407A" stroke-width="0.9" />
<rect x="173.40" y="202.60" width="17.50" height="57.00" fill="#0B59A8" stroke="#07407A" stroke-width="0.7" />
<line x1="207.90" y1="202.60" x2="207.90" y2="208.30" stroke="#9A7549" stroke-width="0.9" />
<line x1="203.90" y1="202.60" x2="211.90" y2="202.60" stroke="#9A7549" stroke-width="0.9" />
<rect x="199.40" y="208.30" width="17.00" height="51.30" fill="#C49B6C" stroke="#9A7549" stroke-width="0.7" />
<line x1="233.90" y1="197.50" x2="233.90" y2="204.00" stroke="#A9A293" stroke-width="0.9" />
<line x1="229.90" y1="197.50" x2="237.90" y2="197.50" stroke="#A9A293" stroke-width="0.9" />
<rect x="225.40" y="204.00" width="17.00" height="55.60" fill="#E4DFD3" stroke="#A9A293" stroke-width="0.7" />
<line x1="259.85" y1="200.40" x2="259.85" y2="206.90" stroke="#2C8BA5" stroke-width="0.9" />
<line x1="255.85" y1="200.40" x2="263.85" y2="200.40" stroke="#2C8BA5" stroke-width="0.9" />
<rect x="251.10" y="206.90" width="17.50" height="52.70" fill="#47B3CE" stroke="#2C8BA5" stroke-width="0.7" />
<line x1="165.80" y1="259.60" x2="277.60" y2="259.60" stroke="#222" stroke-width="1.2" />
<line x1="182.15" y1="259.60" x2="182.15" y2="262.60" stroke="#222" stroke-width="0.9" />
<text x="182.15" y="268.80" font-size="5.6" font-family='"Liberation Serif", serif' font-weight="bold" fill="#000" text-anchor="middle" >NC</text>
<line x1="207.90" y1="259.60" x2="207.90" y2="262.60" stroke="#222" stroke-width="0.9" />
<text x="207.90" y="268.80" font-size="5.6" font-family='"Liberation Serif", serif' font-weight="bold" fill="#000" text-anchor="middle" >HFHF</text>
<line x1="233.90" y1="259.60" x2="233.90" y2="262.60" stroke="#222" stroke-width="0.9" />
<text x="233.90" y="268.80" font-size="5.6" font-family='"Liberation Serif", serif' font-weight="bold" fill="#000" text-anchor="middle" >PCL</text>
<line x1="259.85" y1="259.60" x2="259.85" y2="262.60" stroke="#222" stroke-width="0.9" />
<text x="259.85" y="268.80" font-size="5.6" font-family='"Liberation Serif", serif' font-weight="bold" fill="#000" text-anchor="middle" >PCH</text>
<text transform="translate(155.2,222) rotate(-90)" font-size="5.3" font-family='"Liberation Sans", sans-serif' font-weight="bold" fill="#333" text-anchor="middle" textLength="60" lengthAdjust="spacingAndGlyphs">Food intake(g/d/mouse)</text>
<path d="M182.40,192.40 V188.40 H207.40 V192.40" fill="none" stroke="#000" stroke-width="1.0"/>
<text x="194.50" y="184.00" font-size="4.2" font-family='"Liberation Sans", sans-serif' font-weight="normal" fill="#7a7a7a" text-anchor="middle" >ns</text>
<path d="M209.50,192.40 V188.40 H237.90 V192.40" fill="none" stroke="#000" stroke-width="1.0"/>
<text x="223.50" y="184.00" font-size="4.2" font-family='"Liberation Sans", sans-serif' font-weight="normal" fill="#7a7a7a" text-anchor="middle" >ns</text>
<path d="M209.20,182.20 V178.60 H260.20 V182.20" fill="none" stroke="#000" stroke-width="1.0"/>
<text x="235.00" y="173.80" font-size="4.2" font-family='"Liberation Sans", sans-serif' font-weight="normal" fill="#7a7a7a" text-anchor="middle" >ns</text>
<text x="279.60" y="141.20" font-size="12.5" font-family='"Liberation Serif", serif' font-weight="bold" fill="#000" text-anchor="start" >E</text>
<line x1="324.80" y1="140.30" x2="324.80" y2="258.60" stroke="#6a6a6a" stroke-width="1.4" />
<line x1="322.30" y1="258.60" x2="324.80" y2="258.60" stroke="#333" stroke-width="0.9" />
<text x="321.60" y="260.40" font-size="5.0" font-family='"Liberation Serif", serif' font-weight="bold" fill="#000" text-anchor="end" >0.0</text>
<line x1="322.30" y1="234.94" x2="324.80" y2="234.94" stroke="#333" stroke-width="0.9" />
<text x="321.60" y="236.74" font-size="5.0" font-family='"Liberation Serif", serif' font-weight="bold" fill="#000" text-anchor="end" >0.5</text>
<line x1="322.30" y1="211.28" x2="324.80" y2="211.28" stroke="#333" stroke-width="0.9" />
<text x="321.60" y="213.08" font-size="5.0" font-family='"Liberation Serif", serif' font-weight="bold" fill="#000" text-anchor="end" >1.0</text>
<line x1="322.30" y1="187.62" x2="324.80" y2="187.62" stroke="#333" stroke-width="0.9" />
<text x="321.60" y="189.42" font-size="5.0" font-family='"Liberation Serif", serif' font-weight="bold" fill="#000" text-anchor="end" >1.5</text>
<line x1="322.30" y1="163.96" x2="324.80" y2="163.96" stroke="#333" stroke-width="0.9" />
<text x="321.60" y="165.76" font-size="5.0" font-family='"Liberation Serif", serif' font-weight="bold" fill="#000" text-anchor="end" >2.0</text>
<line x1="322.30" y1="140.30" x2="324.80" y2="140.30" stroke="#333" stroke-width="0.9" />
<text x="321.60" y="142.10" font-size="5.0" font-family='"Liberation Serif", serif' font-weight="bold" fill="#000" text-anchor="end" >2.5</text>
<line x1="332.85" y1="216.40" x2="332.85" y2="219.00" stroke="#07407A" stroke-width="0.9" />
<line x1="331.10" y1="216.40" x2="334.60" y2="216.40" stroke="#07407A" stroke-width="0.9" />
<rect x="329.20" y="219.00" width="7.30" height="39.60" fill="#0B59A8" stroke="#07407A" stroke-width="0.6" />
<line x1="344.15" y1="199.90" x2="344.15" y2="202.80" stroke="#9A7549" stroke-width="0.9" />
<line x1="342.40" y1="199.90" x2="345.90" y2="199.90" stroke="#9A7549" stroke-width="0.9" />
<rect x="340.50" y="202.80" width="7.30" height="55.80" fill="#C49B6C" stroke="#9A7549" stroke-width="0.6" />
<line x1="355.40" y1="203.30" x2="355.40" y2="209.00" stroke="#A9A293" stroke-width="0.9" />
<line x1="353.65" y1="203.30" x2="357.15" y2="203.30" stroke="#A9A293" stroke-width="0.9" />
<rect x="351.50" y="209.00" width="7.80" height="49.60" fill="#E4DFD3" stroke="#A9A293" stroke-width="0.6" />
<line x1="366.95" y1="213.80" x2="366.95" y2="217.20" stroke="#2C8BA5" stroke-width="0.9" />
<line x1="365.20" y1="213.80" x2="368.70" y2="213.80" stroke="#2C8BA5" stroke-width="0.9" />
<rect x="363.30" y="217.20" width="7.30" height="41.40" fill="#47B3CE" stroke="#2C8BA5" stroke-width="0.6" />
<line x1="386.20" y1="213.70" x2="386.20" y2="219.40" stroke="#07407A" stroke-width="0.9" />
<line x1="384.45" y1="213.70" x2="387.95" y2="213.70" stroke="#07407A" stroke-width="0.9" />
<rect x="382.50" y="219.40" width="7.40" height="39.20" fill="#0B59A8" stroke="#07407A" stroke-width="0.6" />
<line x1="398.00" y1="151.60" x2="398.00" y2="162.70" stroke="#9A7549" stroke-width="0.9" />
<line x1="396.25" y1="151.60" x2="399.75" y2="151.60" stroke="#9A7549" stroke-width="0.9" />
<rect x="394.40" y="162.70" width="7.20" height="95.90" fill="#C49B6C" stroke="#9A7549" stroke-width="0.6" />
<line x1="409.15" y1="161.30" x2="409.15" y2="174.00" stroke="#A9A293" stroke-width="0.9" />
<line x1="407.40" y1="161.30" x2="410.90" y2="161.30" stroke="#A9A293" stroke-width="0.9" />
<rect x="405.30" y="174.00" width="7.70" height="84.60" fill="#E4DFD3" stroke="#A9A293" stroke-width="0.6" />
<line x1="420.90" y1="169.10" x2="420.90" y2="186.40" stroke="#2C8BA5" stroke-width="0.9" />
<line x1="419.15" y1="169.10" x2="422.65" y2="169.10" stroke="#2C8BA5" stroke-width="0.9" />
<rect x="417.00" y="186.40" width="7.80" height="72.20" fill="#47B3CE" stroke="#2C8BA5" stroke-width="0.6" />
<line x1="440.20" y1="239.50" x2="440.20" y2="242.60" stroke="#07407A" stroke-width="0.9" />
<line x1="438.45" y1="239.50" x2="441.95" y2="239.50" stroke="#07407A" stroke-width="0.9" />
<rect x="436.30" y="242.60" width="7.80" height="16.00" fill="#0B59A8" stroke="#07407A" stroke-width="0.6" />
<line x1="451.80" y1="192.50" x2="451.80" y2="198.00" stroke="#9A7549" stroke-width="0.9" />
<line x1="450.05" y1="192.50" x2="453.55" y2="192.50" stroke="#9A7549" stroke-width="0.9" />
<rect x="447.90" y="198.00" width="7.80" height="60.60" fill="#C49B6C" stroke="#9A7549" stroke-width="0.6" />
<line x1="463.45" y1="201.40" x2="463.45" y2="209.70" stroke="#A9A293" stroke-width="0.9" />
<line x1="461.70" y1="201.40" x2="465.20" y2="201.40" stroke="#A9A293" stroke-width="0.9" />
<rect x="459.50" y="209.70" width="7.90" height="48.90" fill="#E4DFD3" stroke="#A9A293" stroke-width="0.6" />
<line x1="475.10" y1="210.40" x2="475.10" y2="218.00" stroke="#2C8BA5" stroke-width="0.9" />
<line x1="473.35" y1="210.40" x2="476.85" y2="210.40" stroke="#2C8BA5" stroke-width="0.9" />
<rect x="471.40" y="218.00" width="7.40" height="40.60" fill="#47B3CE" stroke="#2C8BA5" stroke-width="0.6" />
<line x1="494.20" y1="242.10" x2="494.20" y2="244.80" stroke="#07407A" stroke-width="0.9" />
<line x1="492.45" y1="242.10" x2="495.95" y2="242.10" stroke="#07407A" stroke-width="0.9" />
<rect x="490.40" y="244.80" width="7.60" height="13.80" fill="#0B59A8" stroke="#07407A" stroke-width="0.6" />
<line x1="505.85" y1="241.30" x2="505.85" y2="243.80" stroke="#9A7549" stroke-width="0.9" />
<line x1="504.10" y1="241.30" x2="507.60" y2="241.30" stroke="#9A7549" stroke-width="0.9" />
<rect x="502.00" y="243.80" width="7.70" height="14.80" fill="#C49B6C" stroke="#9A7549" stroke-width="0.6" />
<line x1="517.00" y1="241.30" x2="517.00" y2="243.80" stroke="#A9A293" stroke-width="0.9" />
<line x1="515.25" y1="241.30" x2="518.75" y2="241.30" stroke="#A9A293" stroke-width="0.9" />
<rect x="513.10" y="243.80" width="7.80" height="14.80" fill="#E4DFD3" stroke="#A9A293" stroke-width="0.6" />
<line x1="528.85" y1="242.10" x2="528.85" y2="244.30" stroke="#2C8BA5" stroke-width="0.9" />
<line x1="527.10" y1="242.10" x2="530.60" y2="242.10" stroke="#2C8BA5" stroke-width="0.9" />
<rect x="525.10" y="244.30" width="7.50" height="14.30" fill="#47B3CE" stroke="#2C8BA5" stroke-width="0.6" />
<line x1="324.80" y1="258.60" x2="536.80" y2="258.60" stroke="#333" stroke-width="1.3" />
<text x="349.70" y="268.20" font-size="5.6" font-family='"Liberation Serif", serif' font-weight="bold" fill="#000" text-anchor="middle" >Liver weight</text>
<text x="403.30" y="268.20" font-size="5.6" font-family='"Liberation Serif", serif' font-weight="bold" fill="#000" text-anchor="middle" >Epididymal tissue</text>
<text x="457.70" y="268.20" font-size="5.6" font-family='"Liberation Serif", serif' font-weight="bold" fill="#000" text-anchor="middle" >Subcutaneous tissue</text>
<text x="511.50" y="268.20" font-size="5.6" font-family='"Liberation Serif", serif' font-weight="bold" fill="#000" text-anchor="middle" >Kidney weight</text>
<text transform="translate(310.6,199.2) rotate(-90)" font-size="6.4" font-family='"Liberation Serif", serif' font-weight="normal" fill="#111" text-anchor="middle" textLength="28" lengthAdjust="spacingAndGlyphs">Weight (g)</text>
<path d="M332.30,197.60 V194.10 H344.40 V197.60" fill="none" stroke="#000" stroke-width="1.0"/>
<text x="338.30" y="191.00" font-size="6.5" font-family='"Liberation Serif", serif' font-weight="bold" fill="#000" text-anchor="middle" >***</text>
<path d="M345.00,197.60 V194.10 H356.00 V197.60" fill="none" stroke="#000" stroke-width="1.0"/>
<text x="351.00" y="191.50" font-size="6.5" font-family='"Liberation Serif", serif' font-weight="bold" fill="#000" text-anchor="middle" >*</text>
<path d="M346.20,187.60 V184.10 H368.00 V187.60" fill="none" stroke="#000" stroke-width="1.0"/>
<text x="356.70" y="181.50" font-size="6.5" font-family='"Liberation Serif", serif' font-weight="bold" fill="#000" text-anchor="middle" >***</text>
<path d="M383.40,148.10 V144.50 H397.00 V148.10" fill="none" stroke="#000" stroke-width="1.0"/>
<text x="389.80" y="141.60" font-size="6.5" font-family='"Liberation Serif", serif' font-weight="bold" fill="#000" text-anchor="middle" >***</text>
<path d="M398.30,148.10 V144.50 H409.50 V148.10" fill="none" stroke="#000" stroke-width="1.0"/>
<text x="404.30" y="140.20" font-size="4.0" font-family='"Liberation Sans", sans-serif' font-weight="normal" fill="#777" text-anchor="middle" >ns</text>
<path d="M398.80,136.90 V133.70 H421.70 V136.90" fill="none" stroke="#000" stroke-width="1.0"/>
<text x="410.10" y="130.40" font-size="6.5" font-family='"Liberation Serif", serif' font-weight="bold" fill="#000" text-anchor="middle" >**</text>
<path d="M439.00,190.80 V187.30 H451.30 V190.80" fill="none" stroke="#000" stroke-width="1.0"/>
<text x="445.00" y="184.60" font-size="6.5" font-family='"Liberation Serif", serif' font-weight="bold" fill="#000" text-anchor="middle" >***</text>
<path d="M452.00,190.80 V187.30 H463.60 V190.80" fill="none" stroke="#000" stroke-width="1.0"/>
<text x="458.00" y="184.60" font-size="6.5" font-family='"Liberation Serif", serif' font-weight="bold" fill="#000" text-anchor="middle" >**</text>
<path d="M452.40,182.30 V178.80 H475.90 V182.30" fill="none" stroke="#000" stroke-width="1.0"/>
<text x="464.00" y="175.00" font-size="6.5" font-family='"Liberation Serif", serif' font-weight="bold" fill="#000" text-anchor="middle" >***</text>
<path d="M494.20,237.10 V233.70 H503.70 V237.10" fill="none" stroke="#000" stroke-width="0.9"/>
<text x="498.70" y="229.60" font-size="4.0" font-family='"Liberation Sans", sans-serif' font-weight="normal" fill="#555" text-anchor="middle" >ns</text>
<path d="M505.40,237.10 V233.70 H517.60 V237.10" fill="none" stroke="#000" stroke-width="0.9"/>
<text x="511.70" y="229.60" font-size="4.0" font-family='"Liberation Sans", sans-serif' font-weight="normal" fill="#555" text-anchor="middle" >ns</text>
<path d="M506.20,225.60 V222.20 H528.00 V225.60" fill="none" stroke="#000" stroke-width="0.9"/>
<text x="516.80" y="218.20" font-size="4.0" font-family='"Liberation Sans", sans-serif' font-weight="normal" fill="#555" text-anchor="middle" >ns</text>
<rect x="514.60" y="138.40" width="8.10" height="3.50" fill="#0B59A8" stroke="#07407A" stroke-width="0.5" />
<text x="527.50" y="141.90" font-size="5.8" font-family='"Liberation Serif", serif' font-weight="normal" fill="#222" text-anchor="start" >NC</text>
<rect x="514.60" y="148.60" width="8.10" height="3.50" fill="#C49B6C" stroke="#9A7549" stroke-width="0.5" />
<text x="527.50" y="152.10" font-size="5.8" font-family='"Liberation Serif", serif' font-weight="normal" fill="#222" text-anchor="start" >HFHF</text>
<rect x="514.60" y="158.90" width="8.10" height="3.50" fill="#E4DFD3" stroke="#A9A293" stroke-width="0.5" />
<text x="527.50" y="162.40" font-size="5.8" font-family='"Liberation Serif", serif' font-weight="normal" fill="#222" text-anchor="start" >PCL</text>
<rect x="514.60" y="168.60" width="8.10" height="3.50" fill="#47B3CE" stroke="#2C8BA5" stroke-width="0.5" />
<text x="527.50" y="172.10" font-size="5.8" font-family='"Liberation Serif", serif' font-weight="normal" fill="#222" text-anchor="start" >PCH</text>
<text x="7.70" y="278.90" font-size="12.5" font-family='"Liberation Serif", serif' font-weight="bold" fill="#000" text-anchor="start" >F</text>
<linearGradient id="gradNC" gradientUnits="userSpaceOnUse" x1="5.0" y1="0" x2="137.5" y2="0"><stop offset="0" stop-color="#BDCFCA"/><stop offset="0.3" stop-color="#CAD6D2"/><stop offset="0.6" stop-color="#CED7D4"/><stop offset="1" stop-color="#D0D8D6"/></linearGradient>
<clipPath id="clipNC"><rect x="5.0" y="285.0" width="132.50" height="98.50"/></clipPath>
<g clip-path="url(#clipNC)">
<rect x="5.0" y="285.0" width="132.50" height="98.50" fill="#E49EC6"/>
<path d="M20.1,301.1L21.0,300.9L21.7,300.4L21.8,300.2L22.2,299.6L22.2,298.9L21.1,284.4L20.9,283.7L20.5,283.1L19.8,282.7L19.1,282.6L4.5,282.6L3.8,282.7L3.1,283.1L2.7,283.8L2.5,284.6L2.5,299.1L2.7,299.9L3.1,300.6L3.8,301.0L4.5,301.1ZM36.6,284.6L36.4,283.8L36.0,283.1L35.4,282.7L34.6,282.6L24.2,282.6L23.4,282.7L22.8,283.2L22.3,283.9L22.2,284.7L23.2,297.4L23.4,298.1L23.9,298.7L24.5,299.1L25.2,299.2L34.6,299.2L35.4,299.1L36.0,298.7L36.4,298.0L36.6,297.2ZM37.7,297.0L37.9,297.9L38.4,298.5L39.1,298.9L39.9,299.0L48.7,298.2L49.4,297.9L50.0,297.4L50.4,296.8L50.5,296.0L49.4,284.4L49.2,283.7L48.7,283.1L48.1,282.7L47.4,282.6L39.7,282.6L38.9,282.7L38.3,283.1L37.9,283.8L37.7,284.6ZM51.5,295.5L51.7,296.2L52.2,296.8L52.8,297.2L53.5,297.3L60.3,297.3L61.1,297.1L61.8,296.6L62.2,295.9L62.3,295.0L60.7,284.3L60.5,283.6L60.0,283.0L59.4,282.7L58.7,282.6L52.5,282.6L51.7,282.7L51.0,283.2L50.6,283.9L50.5,284.7ZM63.3,294.3L63.5,295.0L63.9,295.5L64.5,295.9L65.2,296.0L67.8,296.0L68.7,295.8L71.8,294.2L72.4,293.8L72.7,293.1L75.8,285.3L75.9,284.5L75.7,283.8L75.3,283.1L74.6,282.7L73.9,282.6L63.9,282.6L63.0,282.7L62.4,283.2L62.0,284.0L61.9,284.8ZM4.5,302.2L3.8,302.4L3.1,302.8L2.7,303.5L2.5,304.2L2.5,313.8L2.7,314.6L3.2,315.3L4.0,315.7L11.6,317.9L12.4,317.9L13.2,317.6L21.2,312.3L21.8,311.8L22.1,311.1L22.1,310.3L21.2,304.0L20.9,303.3L20.5,302.7L19.9,302.4L19.2,302.2ZM36.9,302.2L36.7,301.5L36.2,300.9L35.6,300.5L34.9,300.3L24.1,300.3L23.2,300.6L22.5,301.1L22.5,301.2L22.1,301.9L22.1,302.7L23.3,310.6L23.6,311.4L24.2,312.0L26.9,313.7L27.7,314.0L28.6,314.0L36.1,311.7L36.9,311.2L37.4,310.5L37.6,309.6ZM38.7,310.1L38.9,310.9L39.4,311.5L40.1,311.8L40.9,311.9L48.9,311.1L49.6,310.9L50.2,310.5L50.6,310.0L51.0,309.3L51.1,308.4L50.4,301.1L50.1,300.4L49.6,299.7L48.9,299.4L48.2,299.3L39.8,300.2L39.0,300.4L38.4,300.9L38.1,301.6L38.0,302.3ZM53.4,298.4L52.6,298.6L51.9,299.1L51.5,299.8L51.4,300.6L52.1,307.4L52.4,308.3L53.0,308.9L53.9,309.2L60.0,309.9L60.7,309.8L61.4,309.5L61.9,309.0L62.2,308.3L62.2,307.6L61.1,300.1L60.9,299.4L60.5,298.9L59.9,298.5L59.2,298.4ZM64.1,297.1L63.3,297.3L62.6,297.8L62.2,298.5L62.1,299.4L63.4,307.8L63.6,308.5L64.0,309.1L64.6,309.4L65.3,309.6L68.2,309.6L68.9,309.4L69.5,309.1L69.9,308.5L70.2,307.8L70.1,307.1L68.3,298.7L67.9,297.9L67.2,297.3L66.3,297.1ZM24.0,313.2L23.3,312.9L22.5,312.9L21.8,313.2L14.7,317.9L14.2,318.4L13.9,319.1L13.9,319.8L14.1,320.5L17.1,326.6L17.6,327.2L18.3,327.6L19.1,327.7L19.9,327.4L26.7,323.5L27.3,323.0L27.6,322.3L27.7,321.5L27.2,316.1L26.9,315.3L26.3,314.6ZM29.8,314.8L29.1,315.1L28.7,315.6L28.4,316.2L28.4,316.9L28.9,321.9L29.1,322.7L29.7,323.3L33.4,326.1L34.2,326.5L35.0,326.5L35.8,326.1L39.3,323.5L39.8,323.0L40.1,322.4L40.1,321.7L39.3,314.3L39.0,313.5L38.4,312.9L37.6,312.6L36.7,312.6ZM42.3,312.9L41.5,313.1L40.9,313.6L40.6,314.3L40.5,315.1L41.2,321.4L41.4,322.1L41.9,322.7L42.6,323.1L46.6,324.4L47.5,324.5L48.4,324.1L50.8,322.3L51.3,321.8L51.5,321.0L51.5,320.3L49.9,313.8L49.6,313.2L49.1,312.7L48.5,312.4L47.8,312.3ZM58.1,322.3L58.9,322.3L59.7,322.0L60.2,321.4L60.5,320.6L61.4,313.2L61.4,312.4L61.0,311.7L60.4,311.2L59.7,310.9L53.0,310.2L52.1,310.3L51.3,310.9L51.2,310.9L50.8,311.8L50.8,312.7L52.6,320.1L52.9,320.7L53.4,321.3L54.1,321.5ZM64.6,310.7L63.9,310.8L63.3,311.1L62.8,311.7L62.6,312.4L61.7,319.9L61.7,320.6L62.1,321.4L62.7,321.9L63.4,322.1L69.8,322.8L70.5,322.8L71.1,322.5L71.6,322.0L75.0,317.5L75.3,316.8L75.4,316.1L75.2,315.4L73.6,312.1L73.2,311.5L72.5,311.1L71.6,310.8L70.9,310.7ZM15.6,331.8L16.3,331.4L16.9,330.8L17.1,330.1L17.2,330.0L17.2,329.4L17.0,328.8L12.6,320.0L12.1,319.3L11.3,318.9L5.1,317.2L4.4,317.1L3.7,317.3L3.1,317.7L2.7,318.4L2.5,319.1L2.5,332.1L2.7,332.9L3.0,333.5L3.6,333.9L4.3,334.1L5.0,334.1ZM19.8,328.8L19.2,329.2L18.8,329.9L18.8,330.7L19.0,331.4L19.4,332.0L20.1,332.4L28.6,335.5L29.2,335.6L29.9,335.5L30.5,335.2L33.3,333.1L33.8,332.4L34.0,331.5L34.0,329.0L33.8,328.1L33.2,327.4L29.4,324.6L28.7,324.2L28.0,324.2L27.2,324.4ZM47.3,327.0L47.1,326.3L46.6,325.7L45.9,325.3L41.9,324.0L41.0,323.9L40.1,324.3L36.0,327.4L35.4,328.1L35.1,329.0L35.1,331.4L35.3,332.0L35.6,332.6L36.1,333.0L37.9,334.2L38.6,334.5L39.4,334.5L46.2,332.8L46.8,332.5L47.3,332.0L47.6,331.4L47.7,330.7ZM53.4,322.5L52.6,322.5L51.9,322.9L49.2,324.9L48.7,325.4L48.4,326.0L48.4,326.7L48.9,331.9L49.1,332.5L49.5,333.1L50.0,333.6L50.6,334.0L51.4,334.2L57.0,334.4L57.8,334.2L58.5,333.8L58.9,333.1L59.1,332.4L59.1,325.3L59.0,324.6L58.6,324.0L58.1,323.6L57.5,323.3ZM60.2,331.6L60.4,332.3L60.8,333.0L61.4,333.4L62.2,333.6L70.2,333.6L70.9,333.5L71.5,333.2L72.0,332.6L72.2,332.0L72.2,331.2L71.0,325.5L70.7,324.7L70.1,324.1L69.3,323.9L62.4,323.1L61.6,323.2L60.9,323.6L60.4,324.3L60.2,325.1ZM74.0,293.0L73.8,293.7L73.9,294.4L74.3,295.0L79.4,301.2L79.9,301.6L80.6,301.9L81.3,301.9L85.6,301.1L86.2,300.8L86.8,300.3L87.1,299.6L87.2,298.9L86.6,292.0L86.2,291.0L80.9,283.5L80.4,283.0L79.8,282.8L79.0,282.7L78.4,282.9L77.8,283.4L77.4,284.0ZM98.3,298.9L99.1,298.6L99.8,297.9L100.1,297.1L100.6,292.1L100.5,291.4L100.2,290.7L99.6,290.2L99.0,290.0L98.2,290.0L89.5,291.4L88.8,291.7L88.2,292.2L87.9,292.8L87.8,293.6L88.2,298.0L88.4,298.7L88.9,299.3L89.6,299.7L90.4,299.8ZM111.0,299.2L111.8,298.7L112.2,297.9L113.5,294.0L113.6,293.2L113.4,292.5L113.0,291.9L112.4,291.5L111.6,291.4L103.5,291.4L102.8,291.5L102.2,291.9L101.8,292.4L101.6,293.1L101.1,298.1L101.1,299.0L101.5,299.7L102.7,300.9L103.3,301.4L104.1,301.6L104.8,301.5ZM114.4,290.2L114.3,290.8L114.4,291.4L114.5,291.9L115.0,292.7L115.8,293.2L123.8,295.9L124.5,296.0L125.2,295.9L125.8,295.5L126.2,294.9L126.4,294.2L127.5,284.8L127.4,283.9L127.0,283.2L126.3,282.7L125.5,282.6L118.6,282.6L117.8,282.7L117.2,283.2L116.7,283.9ZM128.7,299.3L129.3,299.5L130.0,299.6L138.1,298.8L138.8,298.6L139.4,298.2L139.8,297.6L139.9,296.8L139.9,284.6L139.8,283.8L139.4,283.1L138.7,282.7L137.9,282.6L130.6,282.6L129.9,282.7L129.3,283.1L128.8,283.6L128.6,284.3L127.2,296.8L127.4,297.9L127.5,298.1L128.3,299.0ZM86.6,289.7L87.1,290.2L87.8,290.5L88.5,290.5L98.0,288.9L98.6,288.6L99.2,288.2L99.5,287.6L99.6,286.9L99.6,284.6L99.5,283.8L99.1,283.1L98.4,282.7L97.6,282.6L85.4,282.6L84.7,282.7L84.1,283.1L83.6,283.6L83.4,284.3L83.5,285.0L83.8,285.7ZM100.7,288.2L100.9,289.0L101.3,289.7L102.0,290.1L102.7,290.2L111.9,290.2L112.6,290.1L113.3,289.6L113.7,288.9L115.1,285.2L115.2,284.5L115.0,283.7L114.6,283.1L113.9,282.7L113.2,282.6L102.7,282.6L102.0,282.7L101.3,283.1L100.9,283.8L100.7,284.6ZM73.8,296.2L73.1,295.6L72.2,295.4L71.3,295.7L70.4,296.1L69.7,296.7L69.3,297.5L69.3,298.4L71.4,307.6L71.7,308.3L72.2,308.9L72.9,309.2L73.7,309.2L74.4,308.9L74.9,308.4L78.3,303.9L78.6,303.1L78.6,302.3L78.2,301.5ZM81.0,303.0L80.3,303.3L79.8,303.8L75.1,310.1L74.7,310.7L74.7,311.4L74.9,312.1L76.4,315.3L76.9,315.9L77.6,316.3L83.4,317.8L84.2,317.9L85.0,317.5L85.6,316.9L89.1,310.8L89.3,310.0L89.2,309.2L87.6,303.6L87.2,303.0L86.7,302.5L86.0,302.2L85.3,302.2ZM90.4,300.9L89.5,301.2L88.9,301.8L88.6,302.6L88.7,303.4L90.1,308.4L90.5,309.0L91.1,309.5L91.8,309.8L97.4,310.5L98.1,310.5L98.7,310.2L99.2,309.8L102.4,306.1L102.7,305.5L102.9,304.8L102.9,303.6L102.7,302.8L102.3,302.2L100.9,300.6L100.1,300.0L99.1,299.9ZM104.0,304.5L104.1,305.4L104.7,306.1L110.5,310.9L111.2,311.3L112.1,311.3L112.8,311.0L115.9,309.1L116.6,308.5L116.9,307.6L117.0,306.5L116.9,305.7L116.5,305.0L113.1,301.0L112.5,300.5L111.7,300.3L110.9,300.4L105.3,302.5L104.6,302.9L104.1,303.6L104.0,304.4ZM118.0,307.5L118.0,308.2L118.3,308.8L118.8,309.3L124.0,313.0L124.7,313.3L125.5,313.3L126.3,313.0L127.7,312.1L128.4,311.4L128.6,310.4L128.6,302.6L128.4,301.8L127.9,301.1L127.1,300.7L126.3,300.6L125.5,300.9L118.9,305.3L118.3,305.9L118.1,306.8ZM131.5,300.5L130.8,300.7L130.2,301.2L129.8,301.8L129.7,302.5L129.7,309.7L129.9,310.6L130.5,311.3L131.3,311.7L137.5,313.1L138.2,313.1L138.9,312.9L139.5,312.5L139.8,311.9L139.9,311.2L139.9,302.0L139.8,301.2L139.3,300.5L138.6,300.1L137.8,300.0ZM116.6,303.4L117.1,303.9L117.8,304.1L118.5,304.1L119.2,303.8L124.1,300.6L124.6,300.1L124.9,299.4L124.9,298.6L124.7,297.9L124.2,297.4L123.6,297.0L116.6,294.6L115.8,294.5L115.1,294.8L114.4,295.2L114.1,295.9L113.3,298.1L113.2,298.8L113.4,299.4L113.7,300.0ZM74.7,334.8L75.2,335.1L75.8,335.3L83.7,336.6L84.5,336.6L85.3,336.2L85.8,335.6L86.3,334.7L86.5,333.7L86.6,322.8L86.3,321.7L85.2,320.0L84.7,319.5L84.0,319.2L77.9,317.5L77.1,317.5L76.4,317.7L75.8,318.3L72.3,322.9L71.9,323.7L71.9,324.5L73.7,333.3L74.0,333.9L74.3,334.4ZM86.4,317.8L86.1,318.5L86.1,319.2L86.4,319.9L86.7,320.3L87.2,320.9L87.9,321.2L88.7,321.3L98.1,320.1L98.8,319.8L99.5,319.2L99.8,318.4L99.7,317.6L98.6,313.0L98.2,312.3L97.7,311.8L96.9,311.5L91.7,310.9L90.9,310.9L90.2,311.3L89.7,311.9ZM100.0,310.6L99.5,311.4L99.6,312.4L101.0,318.1L101.4,318.8L102.0,319.4L102.8,319.6L103.6,319.5L109.0,317.7L109.6,317.4L110.0,316.8L110.3,316.2L110.7,313.9L110.7,313.2L110.5,312.5L110.1,312.0L105.0,307.7L104.3,307.4L103.5,307.3L102.8,307.5L102.2,308.0ZM111.3,316.5L111.4,317.5L111.9,318.3L115.4,321.9L115.9,322.3L116.6,322.4L117.4,322.4L122.3,320.9L123.0,320.6L123.4,320.0L123.7,319.3L124.3,316.0L124.3,315.2L124.0,314.5L123.5,314.0L118.4,310.3L117.6,310.0L116.9,310.0L116.1,310.3L112.8,312.4L112.2,312.9L111.9,313.7ZM130.1,312.6L129.3,312.5L128.5,312.8L126.3,314.3L125.8,314.9L125.5,315.6L124.7,319.8L124.8,320.7L125.3,321.5L127.2,323.4L127.8,323.8L128.4,324.0L129.1,324.0L138.4,321.6L139.2,321.2L139.8,320.5L139.9,319.7L139.9,316.4L139.8,315.5L139.2,314.8L138.4,314.4ZM87.6,330.9L87.8,331.7L88.1,332.3L88.7,332.7L89.5,332.9L90.2,332.9L100.4,329.8L101.0,329.5L101.5,329.0L101.8,328.4L101.8,327.7L101.3,322.8L101.1,322.1L100.6,321.5L99.9,321.1L99.1,321.0L89.4,322.3L88.7,322.5L88.2,322.9L87.8,323.5L87.7,324.2ZM111.2,319.3L110.6,318.8L109.9,318.7L109.2,318.8L103.8,320.6L103.0,321.1L102.5,321.8L102.4,322.7L103.0,328.7L103.3,329.4L103.7,330.0L105.5,331.5L106.2,331.9L107.0,331.9L107.8,331.7L113.3,328.6L113.8,328.2L114.2,327.5L115.1,324.6L115.2,323.9L115.0,323.2L114.6,322.6ZM126.8,329.6L127.2,329.0L127.3,328.2L127.3,325.9L127.1,325.1L126.7,324.5L124.7,322.4L124.1,322.0L123.4,321.9L122.7,321.9L117.5,323.5L116.9,323.7L116.5,324.2L116.2,324.8L115.4,327.3L115.3,328.0L115.5,328.7L115.9,329.3L120.3,333.6L121.0,334.1L121.8,334.2L122.5,334.0L123.2,333.6ZM129.9,324.9L129.1,325.3L128.6,326.0L128.4,326.8L128.4,328.0L128.6,328.9L129.2,329.6L136.7,335.4L137.4,335.7L138.1,335.8L138.8,335.6L139.4,335.1L139.8,334.5L139.9,333.8L139.9,324.9L139.8,324.2L139.4,323.6L138.9,323.2L138.2,322.9L137.5,323.0ZM16.9,335.1L16.8,334.4L16.5,333.8L15.9,333.3L15.2,333.1L14.5,333.1L4.1,335.4L3.3,335.8L2.7,336.5L2.5,337.4L2.5,345.5L2.7,346.3L3.2,347.0L3.9,347.4L4.7,347.5L15.1,346.7L15.8,346.5L16.4,346.0L16.8,345.4L16.9,344.7ZM20.7,333.8L20.0,333.7L19.2,333.8L18.6,334.3L18.2,334.9L18.1,335.7L18.1,345.7L18.3,346.6L18.9,347.3L20.8,348.5L21.5,348.8L22.3,348.8L26.5,347.9L27.3,347.6L27.8,347.0L28.1,346.2L29.0,338.4L28.9,337.5L28.4,336.8L27.6,336.3ZM38.2,336.3L37.9,335.7L37.4,335.2L35.8,334.2L35.0,333.9L34.2,333.9L33.5,334.3L30.9,336.2L30.4,336.8L30.1,337.6L29.2,346.3L29.3,347.2L29.7,347.9L30.3,348.4L31.0,348.7L31.7,348.9L32.4,348.8L39.2,347.0L39.9,346.6L40.5,346.0L40.7,345.3L40.6,344.5ZM41.2,335.2L40.5,335.5L40.0,336.1L39.7,336.9L39.8,337.7L42.0,345.3L42.3,345.9L42.8,346.4L43.4,346.7L44.1,346.9L44.8,347.0L45.6,346.7L46.2,346.2L46.6,345.5L49.3,336.3L49.3,335.5L49.1,334.7L48.5,334.1L47.7,333.8L46.9,333.8ZM48.3,343.7L48.2,344.4L48.4,345.1L48.8,345.7L49.5,346.1L50.2,346.2L57.3,346.2L58.1,346.1L58.8,345.6L59.2,344.9L59.3,344.0L58.5,337.2L58.3,336.5L57.9,336.0L57.3,335.6L56.6,335.4L52.3,335.3L51.4,335.5L50.7,336.0L50.3,336.7ZM61.6,334.7L60.8,334.8L60.1,335.3L59.7,336.1L59.6,336.9L60.5,344.9L60.7,345.6L61.1,346.1L61.6,346.5L62.3,346.7L65.6,347.0L66.3,346.9L67.0,346.6L67.5,346.1L72.9,337.9L73.2,337.1L73.1,336.2L72.7,335.5L72.0,334.9L71.2,334.8ZM20.5,351.1L20.5,350.4L20.2,349.7L19.7,349.1L17.9,348.0L17.3,347.7L16.7,347.6L4.4,348.7L3.7,348.8L3.1,349.3L2.7,349.9L2.5,350.6L2.5,354.4L2.7,355.0L3.0,355.6L3.5,356.1L11.3,361.0L11.9,361.2L12.6,361.3L13.2,361.1L18.4,358.5L19.1,357.9L19.5,357.1ZM32.7,361.0L33.0,360.4L33.2,359.8L33.2,359.1L31.4,350.9L31.0,350.1L30.3,349.6L29.0,349.0L28.4,348.8L27.7,348.8L23.2,349.8L22.4,350.1L21.9,350.7L21.6,351.4L20.5,357.3L20.6,358.2L21.0,359.0L25.9,364.7L26.5,365.2L27.3,365.4L28.1,365.3L28.8,364.8ZM42.4,347.6L41.3,347.5L34.1,349.5L33.5,349.8L33.0,350.4L32.7,351.1L32.7,351.8L34.2,358.7L34.5,359.4L35.0,359.9L35.7,360.2L41.4,361.4L42.1,361.5L42.7,361.3L43.2,360.9L45.7,358.5L46.2,357.6L46.2,356.7L44.9,349.4L44.7,348.8L44.2,348.2L43.5,347.9ZM48.1,347.3L47.2,347.5L46.5,348.1L46.1,348.8L46.1,349.7L47.3,356.3L47.5,356.9L48.0,357.5L48.7,357.8L54.0,359.4L55.1,359.4L55.8,359.2L56.5,358.9L57.0,358.4L57.2,357.8L59.2,349.8L59.3,349.1L59.0,348.4L58.6,347.9L58.0,347.5L57.3,347.3ZM58.4,357.6L58.4,358.5L58.7,359.3L59.4,359.8L61.3,360.9L62.2,361.2L63.0,361.1L68.6,359.0L69.3,358.6L69.7,357.9L71.0,354.9L71.1,354.2L71.0,353.5L70.6,352.8L67.4,348.8L66.7,348.3L66.0,348.1L62.6,347.8L61.9,347.9L61.2,348.2L60.8,348.7L60.5,349.3ZM25.0,369.9L25.8,369.6L26.3,369.0L26.6,368.2L26.5,367.4L26.1,366.6L20.6,360.3L19.9,359.8L19.1,359.6L18.2,359.8L13.9,362.0L13.3,362.4L12.9,363.0L12.8,363.8L12.8,369.0L13.0,370.0L13.6,370.7L14.9,371.5L15.6,371.8L16.4,371.8ZM28.9,366.3L28.5,366.9L28.3,367.6L28.4,368.4L28.8,369.0L29.4,369.5L36.1,372.9L36.7,373.1L37.4,373.0L38.0,372.8L41.8,370.5L42.3,370.0L42.6,369.3L42.7,368.6L42.3,364.2L42.0,363.4L41.5,362.7L40.7,362.4L35.3,361.2L34.6,361.2L34.0,361.4L33.4,361.7ZM43.8,368.7L44.1,369.6L44.8,370.3L46.9,371.4L47.8,371.7L48.6,371.6L51.2,370.6L51.8,370.2L52.3,369.7L52.5,369.0L53.6,362.3L53.6,361.6L53.4,360.9L52.9,360.4L52.2,360.0L48.3,358.9L47.6,358.8L46.9,359.0L46.3,359.4L43.9,361.8L43.4,362.5L43.3,363.4ZM58.1,360.4L57.3,360.1L56.6,360.2L56.3,360.2L55.6,360.6L55.1,361.1L54.8,361.8L53.7,368.7L53.7,369.6L54.2,370.3L54.9,370.9L58.2,372.3L59.1,372.4L60.0,372.1L61.5,371.2L62.1,370.7L62.4,370.0L62.4,369.2L61.7,363.3L61.4,362.5L60.7,361.8ZM64.2,361.8L63.4,362.3L63.0,363.0L62.9,363.9L63.5,369.1L63.8,369.8L64.2,370.4L64.9,370.8L68.0,371.8L68.8,371.9L69.5,371.7L70.1,371.2L73.0,368.1L73.4,367.4L73.4,366.5L73.2,365.7L70.4,361.2L70.0,360.7L69.4,360.4L68.7,360.2L68.0,360.4ZM14.9,373.9L14.7,373.0L14.0,372.3L12.9,371.5L12.1,371.2L11.2,371.3L3.9,373.7L3.2,374.1L2.7,374.8L2.5,375.6L2.5,383.9L2.7,384.7L3.1,385.4L3.8,385.8L4.5,385.9L12.9,385.9L13.7,385.8L14.3,385.4L14.7,384.7L14.9,383.9ZM25.4,373.4L25.3,372.7L24.9,372.1L24.4,371.7L23.7,371.4L23.0,371.5L17.6,372.7L16.8,373.0L16.2,373.7L16.0,374.6L16.0,383.9L16.2,384.7L16.6,385.4L17.2,385.8L18.0,385.9L23.4,385.9L24.2,385.8L24.8,385.4L25.2,384.7L25.4,383.9ZM29.4,370.7L28.6,370.5L27.8,370.6L27.1,371.1L26.7,371.7L26.5,372.5L26.5,383.9L26.7,384.7L27.1,385.4L27.7,385.8L28.5,385.9L34.6,385.9L35.3,385.8L36.0,385.4L36.4,384.7L36.6,383.9L36.6,375.6L36.4,374.8L36.0,374.2L35.5,373.8ZM47.3,373.8L47.0,373.0L46.3,372.3L44.5,371.3L43.8,371.1L43.1,371.1L42.4,371.3L38.6,373.7L38.1,374.2L37.8,374.7L37.6,375.4L37.6,383.9L37.8,384.7L38.2,385.4L38.9,385.8L39.6,385.9L46.5,385.9L47.4,385.8L48.0,385.3L48.5,384.5L48.5,383.7ZM58.4,375.1L58.3,374.3L57.9,373.5L57.2,373.0L53.5,371.5L52.8,371.3L52.1,371.4L49.8,372.3L49.0,372.8L48.6,373.5L48.5,374.4L49.7,384.2L49.9,384.9L50.4,385.4L51.0,385.8L51.7,385.9L55.3,385.9L56.0,385.8L56.6,385.4L57.1,384.9L57.3,384.2ZM69.3,374.3L68.8,373.5L68.0,373.0L64.2,371.7L63.3,371.6L62.5,371.9L60.5,373.1L59.9,373.7L59.6,374.6L58.5,383.7L58.5,384.5L59.0,385.3L59.6,385.8L60.5,385.9L70.3,385.9L71.0,385.8L71.6,385.4L72.1,384.8L72.3,384.1L72.2,383.3ZM10.3,370.5L11.0,370.0L11.5,369.4L11.7,368.6L11.7,363.6L11.5,362.9L11.2,362.3L10.7,361.9L5.6,358.7L4.8,358.4L4.0,358.5L3.2,358.9L2.7,359.6L2.5,360.4L2.5,370.2L2.7,371.0L3.1,371.6L3.7,372.0L4.4,372.2L5.2,372.1ZM103.8,357.4L104.3,357.0L104.8,356.4L104.9,355.7L104.9,355.0L103.0,348.7L102.7,348.1L102.2,347.7L101.6,347.4L89.5,343.7L88.8,343.6L88.1,343.8L87.5,344.2L87.1,344.8L84.2,351.8L84.0,352.6L84.2,353.3L86.0,357.9L86.4,358.5L87.1,359.0L92.7,361.5L93.6,361.7L94.4,361.5ZM120.1,343.7L119.9,343.0L119.4,342.5L118.8,342.2L118.1,342.1L108.4,342.1L107.5,342.3L106.7,342.9L104.3,346.6L103.9,347.4L104.0,348.3L105.5,353.1L105.8,353.8L106.4,354.3L107.1,354.5L107.8,354.5L119.7,351.9L120.4,351.6L121.0,351.0L121.3,350.3L121.3,349.5ZM121.3,340.9L121.0,341.7L121.0,342.5L122.4,349.5L122.7,350.2L123.3,350.8L124.0,351.1L124.8,351.1L138.4,348.1L139.2,347.7L139.7,347.0L139.9,346.1L139.9,344.1L139.8,343.4L139.5,342.8L138.9,342.4L138.2,342.2L123.3,340.0L122.5,340.1L121.9,340.4L121.4,340.9ZM71.6,352.3L72.4,352.9L73.3,353.0L81.7,352.2L82.4,352.0L83.0,351.6L83.4,351.0L86.6,343.2L86.7,342.5L86.6,341.7L85.5,339.0L85.1,338.4L84.6,338.0L83.9,337.8L76.5,336.5L75.7,336.6L75.0,336.9L74.5,337.4L68.6,346.4L68.3,347.2L68.3,348.0L68.7,348.8ZM86.5,336.7L86.2,337.5L86.4,338.3L87.5,341.2L88.0,341.9L88.8,342.3L101.5,346.2L102.3,346.3L103.1,346.0L103.7,345.4L106.1,341.9L106.4,341.3L106.4,340.7L106.0,334.2L105.8,333.4L105.3,332.8L103.3,331.1L102.4,330.6L101.4,330.7L88.2,334.6L87.5,335.0L87.0,335.6ZM115.4,330.4L114.7,329.9L113.8,329.8L113.0,330.0L108.2,332.7L107.6,333.2L107.2,333.9L107.2,334.6L107.4,339.1L107.6,339.8L108.1,340.4L108.7,340.8L109.4,340.9L118.9,340.9L119.8,340.7L120.5,340.1L120.9,339.6L121.2,339.1L121.2,338.5L121.2,337.0L121.1,336.2L120.7,335.5ZM129.4,331.1L128.7,330.8L128.0,330.7L127.3,330.9L126.7,331.3L122.9,335.5L122.5,336.2L122.3,336.9L122.3,337.1L122.5,337.8L122.8,338.4L123.4,338.8L124.1,339.0L135.7,340.7L136.5,340.7L137.1,340.3L137.7,339.8L138.0,339.1L138.0,338.4L137.7,337.7L137.2,337.1ZM125.2,352.1L124.5,352.4L123.9,353.0L123.6,353.7L123.6,354.5L124.6,359.2L124.8,359.9L125.3,360.4L127.0,361.7L127.8,362.0L128.7,362.0L138.4,359.6L139.2,359.2L139.8,358.5L139.9,357.7L139.9,351.3L139.8,350.6L139.5,350.0L138.9,349.6L138.2,349.4L137.5,349.4ZM108.9,355.4L108.2,355.7L107.6,356.3L107.3,357.0L107.3,357.7L107.6,358.4L108.1,359.0L115.1,364.0L115.9,364.3L116.7,364.4L117.4,364.1L122.5,360.7L123.0,360.2L123.3,359.5L123.3,358.7L122.5,354.5L122.2,353.8L121.6,353.2L120.9,352.9L120.1,352.9ZM74.4,365.5L74.8,366.1L75.4,366.4L76.1,366.5L78.6,366.5L79.4,366.3L80.2,365.7L84.6,359.9L84.9,359.3L85.0,358.6L84.8,357.9L83.5,354.6L83.0,353.9L82.3,353.4L81.4,353.3L73.6,354.1L72.9,354.3L72.4,354.7L72.0,355.3L70.8,358.1L70.7,359.1L70.9,359.9ZM81.2,366.1L80.9,366.8L80.8,367.5L81.0,368.2L83.0,372.3L83.5,372.8L84.0,373.2L84.7,373.4L85.4,373.3L91.6,371.5L92.3,371.1L92.8,370.4L93.0,369.6L93.0,364.2L92.9,363.4L92.4,362.8L91.8,362.3L87.5,360.4L86.6,360.2L85.8,360.4L85.1,361.0ZM104.8,361.2L104.6,360.4L104.2,359.8L103.5,359.3L102.8,359.2L102.0,359.4L95.3,362.3L94.7,362.8L94.2,363.4L94.1,364.2L94.1,370.5L94.2,371.2L94.6,371.8L95.6,372.9L96.2,373.4L96.9,373.6L97.6,373.5L103.4,371.9L104.1,371.5L104.6,370.8L104.8,369.9ZM105.9,370.7L106.1,371.5L106.6,372.2L108.8,374.1L109.6,374.5L110.5,374.5L111.3,374.2L115.3,371.3L115.8,370.8L116.1,370.2L116.1,369.5L115.8,366.7L115.6,365.9L115.0,365.3L109.1,361.0L108.4,360.7L107.7,360.6L107.0,360.9L106.4,361.3L106.0,361.9L105.9,362.6ZM117.9,365.1L117.3,365.6L117.0,366.3L117.0,367.0L117.2,369.4L117.4,370.1L117.8,370.6L118.3,371.0L122.6,373.1L123.3,373.3L124.0,373.2L124.7,372.9L126.3,371.7L126.9,371.0L127.1,370.1L127.1,364.1L126.9,363.2L126.3,362.5L125.3,361.8L124.6,361.4L123.8,361.4L123.0,361.7ZM129.7,362.9L128.9,363.3L128.4,364.0L128.2,364.8L128.2,369.4L128.4,370.2L128.9,370.9L129.7,371.3L137.5,373.2L138.2,373.3L138.9,373.1L139.4,372.6L139.8,372.0L139.9,371.3L139.9,362.9L139.8,362.2L139.4,361.6L138.9,361.1L138.2,360.9L137.5,361.0ZM73.7,384.6L74.1,385.3L74.8,385.8L75.6,385.9L77.9,385.9L78.8,385.8L79.4,385.3L79.8,384.5L82.7,375.2L82.8,374.5L82.6,373.8L80.0,368.7L79.6,368.1L79.0,367.7L78.2,367.6L75.8,367.6L74.9,367.8L74.3,368.3L70.8,372.1L70.4,372.7L70.3,373.4L70.4,374.1ZM81.4,383.4L81.3,384.1L81.5,384.8L81.9,385.4L82.5,385.8L83.3,385.9L93.7,385.9L94.5,385.8L95.1,385.4L95.5,384.7L95.7,383.9L95.7,375.5L95.6,374.8L95.2,374.2L94.2,373.1L93.6,372.6L92.9,372.4L92.2,372.5L85.0,374.6L84.4,374.8L83.9,375.3L83.6,375.9ZM98.2,374.5L97.5,374.9L97.0,375.6L96.8,376.4L96.8,383.9L97.0,384.7L97.4,385.4L98.0,385.8L98.8,385.9L107.5,385.9L108.2,385.8L108.9,385.4L109.3,384.7L109.5,383.9L109.5,377.0L109.3,376.1L108.7,375.5L106.0,373.2L105.5,372.8L104.8,372.7L104.2,372.8ZM110.5,383.9L110.7,384.7L111.1,385.4L111.8,385.8L112.5,385.9L121.2,385.9L122.0,385.8L122.6,385.4L123.0,384.7L123.2,383.9L123.2,375.9L123.1,375.2L122.7,374.5L122.1,374.1L118.0,372.1L117.3,371.9L116.6,371.9L115.9,372.2L111.4,375.5L110.8,376.2L110.5,377.1ZM128.7,372.2L127.8,372.2L127.0,372.5L125.1,374.0L124.5,374.7L124.3,375.6L124.3,383.9L124.5,384.7L124.9,385.4L125.5,385.8L126.3,385.9L137.9,385.9L138.7,385.8L139.4,385.4L139.8,384.7L139.9,383.9L139.9,376.5L139.8,375.7L139.2,375.0L138.4,374.6Z" fill="url(#gradNC)"/>
<circle cx="87.5" cy="342.5" r="1.03" fill="#DC3088"/><circle cx="85.4" cy="337.5" r="0.91" fill="#DC3088"/><circle cx="107.0" cy="341.5" r="1.11" fill="#DC3088"/><circle cx="103.1" cy="347.3" r="1.06" fill="#D02A80"/><circle cx="83.3" cy="352.6" r="1.09" fill="#E04A9A"/><circle cx="110.0" cy="375.8" r="1.11" fill="#8A2058"/><circle cx="105.3" cy="371.9" r="0.80" fill="#D02A80"/><circle cx="83.5" cy="374.4" r="1.00" fill="#E04A9A"/><circle cx="79.8" cy="367.1" r="0.72" fill="#DC3088"/><circle cx="63.2" cy="370.8" r="1.17" fill="#D02A80"/><circle cx="54.6" cy="360.1" r="0.91" fill="#DC3088"/><circle cx="37.1" cy="374.0" r="0.74" fill="#E04A9A"/><circle cx="47.7" cy="372.5" r="0.70" fill="#E04A9A"/><circle cx="29.7" cy="336.5" r="0.78" fill="#DC3088"/><circle cx="47.0" cy="357.9" r="0.86" fill="#8A2058"/><circle cx="12.2" cy="362.2" r="1.07" fill="#E04A9A"/><circle cx="127.7" cy="371.4" r="1.06" fill="#8A2058"/><circle cx="127.7" cy="362.8" r="1.01" fill="#D02A80"/><circle cx="124.2" cy="360.2" r="0.77" fill="#DC3088"/><circle cx="69.8" cy="359.1" r="1.14" fill="#E04A9A"/><circle cx="72.9" cy="294.2" r="0.96" fill="#D02A80"/><circle cx="68.4" cy="296.6" r="0.86" fill="#E04A9A"/><circle cx="102.6" cy="329.8" r="1.06" fill="#8A2058"/><circle cx="110.5" cy="317.7" r="0.74" fill="#E04A9A"/><circle cx="116.0" cy="323.3" r="0.74" fill="#E04A9A"/><circle cx="126.6" cy="297.4" r="1.01" fill="#D02A80"/><circle cx="76.4" cy="316.6" r="1.15" fill="#DC3088"/><circle cx="73.7" cy="311.0" r="0.95" fill="#E04A9A"/><circle cx="101.2" cy="290.8" r="0.91" fill="#D02A80"/><circle cx="87.9" cy="300.6" r="1.17" fill="#D02A80"/><circle cx="117.3" cy="308.9" r="1.04" fill="#D02A80"/><circle cx="112.4" cy="299.3" r="0.81" fill="#8A2058"/><circle cx="34.6" cy="332.7" r="1.16" fill="#DC3088"/><circle cx="22.9" cy="311.8" r="0.88" fill="#8A2058"/><circle cx="27.6" cy="314.8" r="0.72" fill="#DC3088"/><circle cx="21.4" cy="301.7" r="0.82" fill="#8A2058"/><circle cx="61.4" cy="297.9" r="0.72" fill="#8A2058"/><circle cx="63.1" cy="310.1" r="0.73" fill="#8A2058"/><circle cx="127.9" cy="329.2" r="1.02" fill="#DC3088"/><circle cx="121.8" cy="335.9" r="0.88" fill="#8A2058"/><circle cx="38.5" cy="335.3" r="0.92" fill="#E04A9A"/><circle cx="58.8" cy="335.0" r="1.11" fill="#DC3088"/><circle cx="52.4" cy="321.8" r="1.03" fill="#E04A9A"/><circle cx="48.5" cy="332.8" r="0.85" fill="#E04A9A"/><circle cx="50.6" cy="298.5" r="0.80" fill="#E04A9A"/><circle cx="39.7" cy="312.6" r="0.85" fill="#E04A9A"/><circle cx="38.3" cy="311.6" r="0.96" fill="#E04A9A"/><circle cx="51.8" cy="309.5" r="0.98" fill="#E04A9A"/>
<radialGradient id="tealg" cx="0.5" cy="0.5" r="0.5"><stop offset="0" stop-color="#9DC0B8" stop-opacity="0.55"/><stop offset="1" stop-color="#9DC0B8" stop-opacity="0"/></radialGradient>
<ellipse cx="18" cy="298" rx="34" ry="26" fill="url(#tealg)"/>
<rect x="8.3" y="291.6" width="3" height="1.1" fill="#B0207A"/>
<path d="M104.2,353.6 C106,352.8 109,352.2 110.8,352.6 C111,354.5 110,356.5 108.8,357.8 C107.5,359.8 106,362 104.6,364.2 C103.4,364.6 101.8,364 101.4,362.8 C101.6,360.5 102.2,358 103,356.2 Z" fill="#E2262A"/>
<path d="M106.5,355 C108,354.2 109.5,354 109.8,354.8 C109,357 107,359.5 105,362 C104,361.5 103.8,360 104.5,358.5 Z" fill="#C81818"/>
</g>
<text x="11.10" y="294.60" font-size="8.2" font-family='"Liberation Serif", serif' font-weight="bold" fill="#000" text-anchor="start"  textLength="11.40" lengthAdjust="spacingAndGlyphs">NC</text>
<line x1="116.00" y1="382.40" x2="136.50" y2="382.40" stroke="#111" stroke-width="1.1" />
<linearGradient id="gradHFHF" gradientUnits="userSpaceOnUse" x1="140.0" y1="0" x2="272.5" y2="0"><stop offset="0" stop-color="#D5D5E0"/><stop offset="0.3" stop-color="#DFD3E9"/><stop offset="0.6" stop-color="#E3D2EB"/><stop offset="1" stop-color="#E7D1EB"/></linearGradient>
<clipPath id="clipHFHF"><rect x="140.0" y="285.0" width="132.50" height="98.50"/></clipPath>
<g clip-path="url(#clipHFHF)">
<rect x="140.0" y="285.0" width="132.50" height="98.50" fill="#EE5CCC"/>
<path d="M160.2,284.6L159.9,283.8L159.4,283.1L158.6,282.7L157.8,282.5L139.9,282.5L139.0,282.7L138.2,283.2L137.7,284.0L137.5,284.9L137.5,295.2L137.6,296.0L138.0,296.7L138.7,297.3L139.4,297.6L151.8,299.9L152.8,299.9L153.7,299.5L154.3,298.8L160.2,288.6L160.5,287.9L160.5,287.1ZM174.1,306.5L174.6,306.0L175.1,305.4L175.2,304.6L175.4,301.5L175.2,300.5L174.5,299.6L163.4,290.5L162.5,290.1L161.5,290.0L160.5,290.4L159.8,291.2L154.8,300.0L154.5,300.9L154.6,301.9L155.4,304.6L155.8,305.3L156.4,305.9L157.1,306.2L168.4,309.1L169.4,309.1L170.3,308.8ZM196.1,306.6L196.8,306.2L197.4,305.7L197.7,304.9L198.1,303.3L198.2,302.3L197.9,301.4L196.2,298.7L195.6,298.1L194.9,297.7L184.8,294.3L184.0,294.2L183.1,294.4L182.4,294.8L177.1,299.7L176.6,300.4L176.4,301.3L176.2,304.7L176.4,305.8L177.1,306.7L181.7,310.3L182.4,310.6L183.1,310.8L183.9,310.6ZM153.8,302.6L153.4,301.9L152.7,301.3L151.9,301.0L140.4,298.7L139.3,298.8L138.4,299.3L137.7,300.1L137.5,301.1L137.5,310.7L137.7,311.7L138.2,312.4L139.1,313.0L140.0,313.1L150.3,312.6L151.1,312.4L151.8,312.0L152.3,311.3L154.4,307.1L154.7,306.2L154.6,305.3ZM168.3,312.5L168.3,311.6L168.0,310.7L167.4,310.0L166.6,309.6L157.5,307.3L156.5,307.3L155.5,307.8L154.8,308.6L152.9,312.2L152.7,313.1L152.8,314.0L153.8,317.4L154.2,318.1L154.8,318.7L162.3,323.4L163.1,323.8L164.0,323.8L164.9,323.4L165.5,322.8L165.9,322.0ZM182.4,326.3L183.1,325.7L183.6,324.8L183.7,323.8L182.2,312.8L182.0,312.0L181.3,311.3L176.9,307.8L176.0,307.4L175.1,307.3L174.2,307.6L170.8,309.7L170.1,310.3L169.7,311.1L166.1,325.2L166.1,326.0L166.2,326.7L167.5,330.1L168.0,330.9L168.7,331.4L169.0,331.6L170.1,331.8L171.1,331.6ZM190.0,327.3L191.1,327.5L192.0,327.1L192.8,326.5L200.3,315.9L200.7,315.2L200.8,314.3L200.5,313.5L198.4,309.1L197.9,308.4L197.2,307.9L196.4,307.7L195.5,307.9L185.0,311.3L184.3,311.7L183.7,312.3L183.4,313.1L183.4,313.9L184.7,324.0L185.0,324.8L185.5,325.5L186.3,325.9ZM141.7,330.0L142.7,329.8L143.6,329.2L152.2,319.4L152.6,318.7L152.8,317.9L152.7,317.1L152.1,315.3L151.6,314.4L150.8,313.8L149.7,313.7L139.8,314.1L138.9,314.3L138.2,314.9L137.7,315.6L137.5,316.5L137.5,327.5L137.7,328.4L138.2,329.1L138.9,329.7L139.8,329.9ZM161.5,286.8L161.7,287.6L162.3,288.3L174.3,298.1L175.0,298.5L175.9,298.7L176.7,298.5L177.4,298.0L182.1,293.8L182.6,293.0L182.8,292.0L182.8,284.9L182.7,284.0L182.1,283.2L181.4,282.7L180.4,282.5L163.6,282.5L162.7,282.7L161.8,283.3L161.4,284.2L161.3,285.2ZM183.8,291.2L184.1,292.2L184.6,293.0L185.5,293.5L193.3,296.1L194.3,296.2L195.2,295.9L196.0,295.3L196.4,294.4L198.9,285.5L199.0,284.7L198.7,283.8L198.2,283.1L197.4,282.7L196.6,282.5L186.2,282.5L185.3,282.7L184.6,283.2L184.0,284.0L183.8,284.9ZM211.3,298.1L212.1,297.7L212.7,297.1L213.0,296.3L213.0,295.5L211.6,284.6L211.3,283.8L210.8,283.1L210.0,282.7L209.2,282.5L202.6,282.5L201.6,282.7L200.8,283.3L200.3,284.3L196.9,296.4L196.8,297.4L197.2,298.3L198.2,300.1L198.9,300.8L199.9,301.2L200.9,301.1ZM214.2,296.5L214.5,297.5L215.2,298.2L216.6,299.2L217.4,299.5L218.2,299.6L219.0,299.4L227.9,295.3L228.9,294.4L229.6,293.4L229.9,292.7L229.9,291.9L229.5,284.7L229.3,283.9L228.7,283.1L228.0,282.7L227.1,282.5L215.1,282.5L214.1,282.7L213.2,283.3L212.8,284.2L212.7,285.2ZM248.0,285.3L247.9,284.3L247.5,283.4L246.6,282.7L245.6,282.5L232.9,282.5L231.9,282.7L231.1,283.3L230.6,284.1L230.5,285.1L230.8,290.5L231.1,291.5L231.9,292.3L232.9,292.7L244.0,294.4L245.0,294.4L245.8,294.0L246.4,293.3L246.8,292.5ZM255.1,302.0L256.1,302.3L257.2,302.1L263.0,299.8L263.8,299.3L264.3,298.6L264.6,297.8L264.5,296.9L261.1,284.3L260.7,283.4L259.8,282.7L258.8,282.5L251.5,282.5L250.7,282.6L250.0,283.1L249.4,283.7L249.1,284.5L247.4,294.6L247.6,295.9L248.3,297.6L248.7,298.3L249.4,298.8ZM217.7,308.2L218.1,307.3L218.2,306.3L217.4,301.8L217.1,300.9L216.4,300.2L214.7,299.1L213.7,298.7L212.7,298.7L200.7,302.2L199.9,302.6L199.4,303.2L199.0,303.9L198.5,305.7L198.5,306.5L198.7,307.3L201.7,313.5L202.2,314.3L203.1,314.7L208.9,316.6L209.8,316.7L210.8,316.5L211.5,315.9ZM234.9,313.0L235.4,312.5L235.8,311.7L236.2,310.2L236.3,309.2L236.0,308.3L229.8,297.9L229.2,297.2L228.4,296.8L227.5,296.7L226.7,296.9L219.9,300.0L219.1,300.7L218.6,301.6L218.6,302.6L219.2,306.2L219.5,307.1L220.2,307.8L230.5,314.3L231.4,314.6L232.3,314.6L233.2,314.2ZM233.0,293.7L232.1,293.8L231.3,294.1L230.7,294.8L230.3,295.6L230.3,296.5L230.6,297.3L235.6,305.8L236.2,306.4L236.9,306.8L237.8,306.9L238.6,306.8L239.3,306.3L246.4,299.8L246.9,299.0L247.2,298.1L247.0,297.1L247.0,297.0L246.5,296.4L245.9,295.9L245.1,295.6ZM238.0,308.9L237.3,310.0L237.2,310.5L237.1,311.4L237.3,312.2L237.8,312.9L238.5,313.4L246.5,316.7L247.4,316.9L248.2,316.8L249.0,316.3L254.1,312.0L254.7,311.2L255.0,310.3L255.4,304.9L255.3,304.0L254.9,303.2L254.2,302.6L249.8,300.2L248.9,299.9L247.9,300.1L247.0,300.6ZM256.0,310.2L256.1,311.3L256.7,312.2L267.6,322.1L268.5,322.6L269.5,322.7L272.9,322.3L273.7,322.1L274.4,321.5L274.8,320.8L275.0,319.9L275.0,303.9L274.8,302.8L274.1,302.0L273.1,301.5L266.4,300.0L265.7,299.9L265.0,300.1L257.9,302.9L257.2,303.3L256.7,304.0L256.4,304.9ZM249.8,327.4L250.2,328.3L250.8,329.0L251.7,329.4L256.1,330.5L257.1,330.5L258.0,330.1L265.0,325.0L265.6,324.4L266.0,323.6L266.0,322.8L265.8,322.0L265.3,321.3L256.9,313.7L256.2,313.2L255.3,313.0L254.5,313.2L253.7,313.6L249.5,317.2L249.0,317.8L248.7,318.6L248.7,319.4ZM220.8,309.3L220.0,309.0L219.1,309.0L218.3,309.3L217.7,309.8L212.1,316.7L211.7,317.4L211.6,318.3L211.8,319.1L212.6,321.1L213.2,322.0L214.1,322.5L215.1,322.6L228.4,321.1L229.3,320.8L230.0,320.2L230.5,319.3L230.9,317.7L230.9,316.7L230.5,315.8L229.8,315.1ZM231.1,320.8L231.1,322.0L232.1,325.8L232.4,326.6L232.9,327.1L233.6,327.5L243.8,331.2L244.8,331.3L245.8,331.0L247.7,330.0L248.4,329.4L248.8,328.5L248.9,327.5L247.7,319.6L247.5,318.8L247.0,318.1L246.3,317.7L237.3,313.9L236.5,313.7L235.7,313.8L235.0,314.2L233.0,315.6L232.4,316.2L232.1,316.9ZM203.6,316.0L202.6,315.9L201.7,316.2L200.9,316.9L193.5,327.2L193.1,328.1L193.1,329.0L193.5,329.9L194.1,330.8L194.6,331.3L195.4,331.7L207.3,335.3L208.4,335.3L209.4,334.9L209.9,334.6L210.5,333.9L210.9,333.0L212.4,324.1L212.2,322.7L210.7,319.1L210.1,318.3L209.2,317.8ZM215.2,323.6L214.3,323.9L213.5,324.6L213.1,325.6L212.1,331.6L212.1,332.5L212.5,333.4L213.1,334.0L214.0,334.4L223.6,336.4L224.5,336.4L225.4,336.1L226.1,335.4L230.8,328.3L231.2,327.3L231.2,326.3L230.6,324.0L230.2,323.2L229.6,322.6L228.8,322.2L228.0,322.2ZM149.4,351.2L150.3,350.9L150.9,350.2L151.2,349.3L153.1,338.9L153.1,338.0L152.7,337.1L152.0,336.4L143.4,331.4L142.3,331.0L140.0,330.9L139.1,331.0L138.3,331.5L137.7,332.3L137.5,333.3L137.5,350.8L137.7,351.7L138.1,352.4L138.7,352.9L139.6,353.2L140.4,353.2ZM168.4,332.4L167.4,332.1L166.4,332.3L155.6,336.9L154.9,337.3L154.4,337.9L154.2,338.7L152.2,349.5L152.2,350.4L152.6,351.3L153.3,351.9L158.8,355.6L159.7,356.0L160.6,356.0L161.4,355.7L161.5,355.6L162.3,354.8L171.0,340.3L171.3,339.4L171.2,338.4L169.9,334.0L169.5,333.2L168.7,332.6ZM172.3,338.5L173.0,339.7L181.5,346.8L182.2,347.2L183.0,347.4L183.8,347.2L187.6,345.9L188.4,345.4L189.0,344.5L193.2,333.1L193.4,332.0L193.0,330.9L192.0,329.6L191.5,329.1L190.9,328.7L185.4,326.7L184.5,326.6L183.6,326.8L172.5,332.1L171.8,332.6L171.3,333.3L171.1,334.1L171.2,334.9ZM165.3,327.1L164.9,326.4L164.3,325.9L155.5,320.3L154.7,320.0L153.9,319.9L153.1,320.2L152.4,320.7L145.7,328.3L145.2,329.2L145.2,330.2L145.6,331.2L146.3,331.9L153.0,335.9L154.0,336.2L155.1,336.0L164.7,332.0L165.4,331.5L165.9,330.7L166.1,329.8L166.0,328.9ZM181.3,355.8L181.3,356.8L181.7,357.7L182.4,358.3L186.9,361.2L188.0,361.6L189.1,361.4L193.5,359.5L194.4,358.8L197.3,355.2L197.8,354.3L197.8,353.3L197.5,352.4L196.8,351.7L189.9,347.2L188.9,346.8L187.8,346.9L184.1,348.2L183.4,348.6L182.9,349.2L182.6,349.9ZM161.2,366.3L161.4,367.1L161.9,367.8L162.6,368.3L163.4,368.5L172.1,369.3L173.0,369.2L173.8,368.8L174.4,368.1L178.5,360.9L178.8,360.0L178.7,359.0L178.3,358.2L177.5,357.6L176.6,357.3L163.3,356.2L162.6,356.3L161.8,356.6L161.8,356.6L161.2,357.2L160.8,357.9L160.7,358.8ZM158.3,368.4L159.1,368.1L159.7,367.5L160.1,366.8L160.2,365.9L159.7,358.6L159.4,357.5L158.6,356.7L152.1,352.4L151.3,352.0L150.3,352.1L139.4,354.4L138.4,354.9L137.7,355.7L137.5,356.8L137.5,369.6L137.7,370.6L138.4,371.5L139.3,371.9L140.4,372.0ZM183.1,360.0L182.2,359.6L181.2,359.7L180.3,360.1L179.7,360.8L175.4,368.4L175.1,369.4L175.2,370.3L175.7,371.2L177.5,373.2L178.2,373.8L179.0,374.0L179.9,374.0L186.5,372.3L187.3,371.9L187.9,371.3L188.3,370.5L188.3,369.7L187.6,363.9L187.2,362.9L186.5,362.1ZM190.1,362.0L189.3,362.6L188.8,363.5L188.7,364.5L189.5,370.7L189.8,371.7L190.5,372.4L194.4,375.0L195.2,375.4L196.0,375.4L196.8,375.2L197.5,374.7L199.3,372.9L199.8,372.0L199.9,371.0L199.6,370.0L195.2,362.2L194.6,361.5L193.9,361.1L193.0,361.0L192.2,361.2ZM160.7,371.9L160.5,370.9L159.8,370.0L158.9,369.5L157.8,369.5L139.4,373.2L138.7,373.5L138.0,374.0L137.6,374.7L137.5,375.5L137.5,383.6L137.7,384.5L138.2,385.3L139.0,385.8L139.9,386.0L158.3,386.0L159.2,385.8L160.0,385.3L160.5,384.5L160.7,383.6ZM161.7,383.6L161.9,384.5L162.4,385.3L163.2,385.8L164.1,386.0L174.5,386.0L175.4,385.8L176.1,385.4L176.7,384.7L176.9,383.8L177.7,376.1L177.6,375.1L177.1,374.3L174.3,371.2L173.6,370.6L172.8,370.4L164.3,369.6L163.3,369.7L162.5,370.2L161.9,371.0L161.7,372.0ZM180.4,374.9L179.5,375.3L178.9,376.0L178.6,377.0L177.9,383.4L178.1,384.4L178.6,385.2L179.4,385.8L180.3,386.0L193.7,386.0L194.7,385.8L195.5,385.2L196.0,384.4L196.1,383.4L195.8,378.3L195.4,377.2L194.7,376.4L189.9,373.3L189.0,372.9L188.0,372.9ZM178.0,356.4L178.9,356.3L179.6,356.0L180.2,355.3L180.5,354.5L181.6,349.8L181.6,349.0L181.3,348.2L180.8,347.5L174.3,342.1L173.4,341.6L172.4,341.5L171.4,341.9L170.7,342.7L165.2,351.9L164.9,352.8L165.0,353.8L165.4,354.6L166.1,355.3L167.1,355.5ZM207.9,350.6L208.0,351.4L208.4,352.2L209.1,352.8L209.9,353.1L218.1,354.4L219.0,354.3L219.8,354.0L227.5,348.6L228.2,347.8L228.5,346.8L228.4,345.7L225.5,338.9L224.9,338.0L223.8,337.5L212.3,335.0L211.3,335.0L210.4,335.4L209.9,335.8L209.2,336.6L208.9,337.6ZM260.1,353.8L261.0,353.4L261.6,352.7L262.0,351.8L261.9,350.9L257.2,333.1L256.8,332.3L256.2,331.7L255.4,331.3L250.6,330.2L249.7,330.1L248.9,330.4L246.3,331.9L245.5,332.6L245.1,333.5L242.7,345.3L242.7,346.3L243.0,347.1L243.7,347.8L253.8,354.5L254.7,354.9L255.6,354.8ZM207.8,338.4L207.7,337.4L207.0,336.5L206.1,336.0L196.7,333.1L195.8,333.1L194.9,333.3L194.2,333.8L193.8,334.6L190.3,344.0L190.1,345.0L190.5,346.0L191.2,346.8L199.2,352.1L199.9,352.4L200.7,352.4L204.7,352.1L205.6,351.9L206.3,351.4L206.7,350.7L206.9,349.9ZM243.9,334.5L243.9,333.6L243.6,332.8L243.1,332.2L242.4,331.7L233.9,328.7L232.9,328.6L231.9,328.9L231.1,329.6L226.7,336.3L226.3,337.4L226.5,338.6L229.7,346.3L230.3,347.1L231.1,347.6L231.7,347.8L232.8,347.9L239.7,346.9L240.6,346.6L241.3,345.9L241.7,345.0ZM240.9,371.1L241.8,371.4L242.7,371.4L243.5,371.0L244.1,370.4L252.5,357.7L252.9,356.9L252.9,355.9L252.5,355.1L251.8,354.4L242.4,348.2L241.7,347.8L240.8,347.8L235.1,348.6L234.3,348.9L233.6,349.5L233.1,350.4L233.1,351.3L235.3,366.8L235.7,367.8L236.5,368.5ZM207.3,367.1L207.4,368.0L207.8,368.8L208.5,369.4L215.8,373.5L216.8,373.8L217.9,373.6L218.8,373.0L222.1,369.2L222.5,368.5L222.7,367.6L222.6,366.8L219.2,356.9L218.8,356.1L218.2,355.6L217.3,355.3L211.1,354.3L210.2,354.4L209.3,354.8L208.7,355.5L208.4,356.4ZM232.0,350.9L231.7,350.0L231.0,349.3L230.1,348.9L229.2,348.9L228.3,349.3L221.2,354.2L220.5,355.0L220.2,355.9L220.3,357.0L223.4,366.1L223.9,367.0L224.7,367.5L225.7,367.8L231.6,367.8L232.6,367.5L233.5,366.9L234.0,366.0L234.0,365.0ZM200.2,369.0L200.8,369.7L201.6,370.1L202.5,370.2L203.4,370.0L205.0,369.2L205.6,368.7L206.1,368.0L206.3,367.3L207.4,355.7L207.3,354.7L206.8,353.8L205.9,353.3L204.9,353.1L201.0,353.4L200.1,353.7L199.3,354.3L196.0,358.5L195.5,359.3L195.5,360.3L195.8,361.2ZM217.2,376.6L217.0,375.9L216.6,375.2L216.0,374.7L207.7,370.1L206.6,369.8L205.5,370.0L201.8,371.9L201.2,372.4L197.4,376.2L196.9,377.0L196.8,378.0L197.1,383.8L197.3,384.6L197.9,385.4L198.6,385.8L199.5,386.0L215.3,386.0L216.2,385.8L217.0,385.2L217.5,384.4L217.7,383.4ZM224.9,368.8L223.9,369.0L223.1,369.6L218.8,374.5L218.3,375.3L218.2,376.2L218.7,383.8L218.9,384.6L219.5,385.4L220.2,385.8L221.1,386.0L242.1,386.0L243.1,385.8L244.0,385.1L244.4,384.2L244.5,383.2L242.8,374.3L242.4,373.4L241.6,372.7L235.4,369.1L234.2,368.8ZM263.2,351.9L263.6,352.7L264.2,353.3L264.9,353.6L272.0,355.4L272.9,355.5L273.7,355.2L274.4,354.7L274.8,354.0L275.0,353.1L275.0,325.8L274.8,324.8L274.2,324.0L273.3,323.5L272.3,323.4L269.0,323.7L267.9,324.2L259.1,330.5L258.5,331.2L258.2,332.1L258.2,333.1ZM265.7,297.5L266.0,298.2L266.6,298.8L267.4,299.2L272.1,300.3L272.9,300.3L273.7,300.0L274.4,299.5L274.8,298.8L275.0,297.9L275.0,284.9L274.8,284.0L274.3,283.2L273.5,282.7L272.6,282.5L264.8,282.5L264.0,282.7L263.2,283.1L262.7,283.8L262.4,284.6L262.5,285.5ZM245.6,384.0L245.9,384.8L246.5,385.4L247.2,385.9L248.0,386.0L272.6,386.0L273.5,385.8L274.3,385.3L274.8,384.5L275.0,383.6L275.0,359.1L274.8,358.1L274.1,357.2L273.2,356.8L263.7,354.3L262.6,354.3L255.8,355.8L254.9,356.2L254.3,356.9L244.1,372.2L243.8,373.1L243.7,374.0Z" fill="url(#gradHFHF)"/>
<circle cx="154.0" cy="337.0" r="0.84" fill="#E030B0"/><circle cx="161.1" cy="288.0" r="0.85" fill="#E030B0"/><circle cx="232.0" cy="327.5" r="1.03" fill="#E030B0"/><circle cx="217.6" cy="375.0" r="0.68" fill="#E030B0"/><circle cx="201.7" cy="314.8" r="0.67" fill="#E030B0"/><circle cx="152.0" cy="313.0" r="0.85" fill="#E030B0"/><circle cx="241.8" cy="347.1" r="0.79" fill="#E030B0"/><circle cx="254.5" cy="355.6" r="0.77" fill="#E030B0"/><circle cx="243.0" cy="372.9" r="0.76" fill="#E030B0"/><circle cx="199.7" cy="353.0" r="0.64" fill="#E030B0"/><circle cx="194.4" cy="359.7" r="0.64" fill="#E030B0"/>
<radialGradient id="shad" cx="0.5" cy="0.5" r="0.5"><stop offset="0" stop-color="#3A1A3A" stop-opacity="0.95"/><stop offset="0.5" stop-color="#6A3A6A" stop-opacity="0.6"/><stop offset="1" stop-color="#B080B0" stop-opacity="0"/></radialGradient>
<ellipse cx="271.5" cy="369.5" rx="7.5" ry="11" fill="url(#shad)"/>
</g>
<text x="144.00" y="294.30" font-size="8.2" font-family='"Liberation Serif", serif' font-weight="bold" fill="#000" text-anchor="start"  textLength="23.20" lengthAdjust="spacingAndGlyphs">HFHF</text>
<line x1="251.00" y1="382.40" x2="271.50" y2="382.40" stroke="#111" stroke-width="1.1" />
<linearGradient id="gradPCL" gradientUnits="userSpaceOnUse" x1="275.0" y1="0" x2="407.5" y2="0"><stop offset="0" stop-color="#D8D2DE"/><stop offset="0.35" stop-color="#DCD0E2"/><stop offset="0.7" stop-color="#DFCCE3"/><stop offset="1" stop-color="#E0CCE4"/></linearGradient>
<clipPath id="clipPCL"><rect x="275.0" y="285.0" width="132.50" height="98.50"/></clipPath>
<g clip-path="url(#clipPCL)">
<rect x="275.0" y="285.0" width="132.50" height="98.50" fill="#EC70CC"/>
<path d="M282.5,300.8L283.2,300.9L283.9,300.9L293.9,298.8L294.6,298.5L295.2,297.9L295.6,297.2L298.6,285.2L298.7,284.4L298.4,283.6L298.0,283.0L297.3,282.6L296.5,282.4L274.6,282.4L273.8,282.6L273.1,283.1L272.6,283.8L272.4,284.6L272.4,294.7L272.6,295.5L273.0,296.2L273.7,296.6ZM296.4,297.8L296.3,298.7L296.7,299.6L300.3,304.3L301.1,304.9L302.1,305.2L310.3,305.2L311.2,304.9L312.0,304.4L312.4,303.5L314.3,296.3L314.4,295.4L314.1,294.6L313.5,293.9L302.6,285.6L301.8,285.3L301.0,285.2L300.1,285.5L299.5,286.1L299.1,286.9ZM316.6,294.5L315.8,295.1L315.3,296.0L313.1,304.2L313.1,305.0L313.3,305.7L313.7,306.4L317.8,310.5L318.5,311.0L319.3,311.1L320.1,311.0L320.8,310.6L329.4,303.0L330.0,302.2L330.1,301.2L329.9,300.3L327.9,296.6L327.4,296.0L326.8,295.6L320.9,293.3L320.0,293.2L319.2,293.4ZM331.1,300.6L331.7,301.3L332.6,301.7L337.0,302.6L337.7,302.6L338.5,302.3L339.1,301.9L339.5,301.2L345.5,285.4L345.6,284.6L345.5,283.8L345.0,283.1L344.3,282.6L343.4,282.4L337.1,282.4L336.3,282.6L335.6,283.0L335.1,283.6L328.9,294.5L328.7,295.2L328.7,296.0L328.9,296.7ZM299.9,306.8L300.0,305.7L299.6,304.8L296.3,300.5L295.7,300.0L294.9,299.7L294.1,299.7L285.6,301.5L284.8,301.8L284.2,302.3L283.9,303.1L283.8,303.9L284.7,312.7L284.9,313.4L285.4,314.0L286.1,314.5L286.8,314.6L295.7,314.9L296.6,314.8L297.4,314.2L297.8,313.4ZM302.7,306.1L301.8,306.2L301.0,306.8L300.6,307.6L298.4,314.7L298.3,315.4L298.4,316.2L300.5,321.8L301.1,322.7L301.9,323.2L306.7,324.7L307.7,324.8L308.7,324.4L318.2,317.7L318.8,317.2L319.1,316.5L319.2,315.7L318.9,313.6L318.7,312.8L318.3,312.2L312.8,306.7L312.0,306.2L311.2,306.1ZM320.6,312.0L320.0,312.9L319.9,313.9L320.1,316.0L320.4,316.9L320.9,317.6L326.3,321.7L327.1,322.1L327.9,322.1L331.8,321.7L332.8,321.3L333.4,320.6L340.6,308.3L340.9,307.5L340.8,306.6L340.4,305.8L339.3,304.5L338.8,304.0L338.1,303.7L332.5,302.6L331.5,302.6L330.6,303.1ZM281.9,314.9L282.7,314.6L283.3,314.1L283.7,313.3L283.8,312.5L282.8,303.1L282.6,302.3L282.2,301.7L281.6,301.3L275.6,298.5L274.7,298.3L273.9,298.4L273.1,298.9L272.6,299.6L272.4,300.5L272.4,313.7L272.6,314.6L273.2,315.3L274.0,315.8L274.9,315.9ZM281.9,325.1L282.7,324.9L283.4,324.4L283.9,323.7L284.1,322.9L284.1,318.0L283.9,317.1L283.3,316.4L282.5,315.9L281.6,315.9L274.4,316.8L273.6,317.1L273.0,317.6L272.6,318.2L272.4,319.0L272.4,322.9L272.6,323.7L273.1,324.4L273.8,324.9L274.6,325.1ZM285.0,323.7L285.1,324.6L285.7,325.3L286.5,325.8L287.4,325.9L297.3,324.9L298.0,324.7L298.5,324.4L298.9,324.1L299.4,323.4L299.6,322.5L299.5,321.6L297.9,317.3L297.4,316.5L296.7,316.0L295.9,315.8L287.2,315.5L286.4,315.7L285.6,316.2L285.1,316.9L285.0,317.7ZM282.4,336.8L283.3,336.4L283.9,335.7L284.2,334.8L284.7,328.3L284.6,327.4L284.2,326.7L283.4,326.1L282.5,325.9L274.6,325.9L273.8,326.1L273.1,326.6L272.6,327.3L272.4,328.1L272.4,336.1L272.7,337.0L273.2,337.7L274.1,338.2L275.1,338.2ZM287.6,326.7L286.8,327.0L286.2,327.4L285.8,328.0L285.6,328.8L285.0,335.3L285.1,336.1L285.5,336.8L286.1,337.4L289.3,339.4L289.9,339.7L290.6,339.8L291.8,339.7L292.7,339.5L293.4,339.0L293.8,338.2L296.6,328.9L296.7,328.0L296.4,327.2L295.9,326.6L295.1,326.2L294.3,326.1ZM309.6,324.8L309.0,325.5L308.7,326.3L308.7,327.1L312.3,342.1L312.5,342.7L313.0,343.3L313.7,343.6L316.7,344.7L317.4,344.8L318.0,344.7L322.6,343.3L323.4,342.9L323.9,342.2L324.2,341.4L326.3,324.2L326.3,323.4L326.0,322.7L325.4,322.1L321.0,318.8L320.2,318.4L319.3,318.3L318.4,318.7ZM329.0,322.9L328.1,323.2L327.4,323.9L327.1,324.8L325.1,341.0L325.2,341.8L325.5,342.5L326.0,343.1L326.7,343.4L334.5,345.7L335.4,345.8L336.2,345.5L336.9,344.9L337.2,344.1L340.8,329.1L340.9,328.2L340.5,327.4L339.9,326.7L333.7,322.8L333.0,322.6L332.3,322.5ZM294.7,338.3L294.7,339.2L295.0,340.1L295.7,340.8L303.0,345.2L303.8,345.5L304.8,345.4L309.7,343.9L310.4,343.5L310.9,342.9L311.2,342.1L311.1,341.3L307.8,327.1L307.5,326.4L307.0,325.8L306.3,325.5L301.8,324.1L301.1,324.0L300.4,324.1L299.8,324.5L299.1,325.1L298.4,326.1ZM306.4,282.4L305.5,282.6L304.8,283.2L304.3,283.9L304.2,284.9L304.5,285.7L305.1,286.4L314.2,293.3L314.9,293.7L315.7,293.8L316.5,293.6L318.5,292.7L319.1,292.3L319.5,291.7L319.7,290.9L320.4,284.9L320.3,284.0L319.9,283.2L319.1,282.6L318.2,282.4ZM320.7,290.5L320.8,291.5L321.3,292.3L322.1,292.8L325.8,294.3L326.6,294.5L327.4,294.3L328.1,294.0L328.6,293.3L332.9,285.7L333.2,284.9L333.1,284.0L332.6,283.2L331.9,282.6L331.0,282.4L323.6,282.4L322.8,282.6L322.1,283.0L321.6,283.6L321.4,284.4ZM340.1,302.2L339.9,302.9L340.0,303.7L340.4,304.4L341.8,306.0L342.8,306.7L346.7,308.0L347.9,308.0L349.2,307.6L350.1,307.2L350.7,306.5L356.3,295.0L356.6,294.3L356.5,293.5L356.2,292.8L350.6,284.4L350.0,283.8L349.3,283.5L348.5,283.4L347.7,283.7L347.1,284.1L346.7,284.8ZM357.3,292.8L357.8,293.4L358.4,293.7L362.3,295.0L363.2,295.1L364.1,294.8L376.4,287.9L377.2,287.1L378.0,285.8L378.3,284.9L378.2,284.0L377.8,283.2L377.0,282.6L376.1,282.4L354.5,282.4L353.7,282.6L353.0,283.0L352.5,283.6L352.3,284.4L352.3,285.2L352.6,285.9ZM365.4,295.1L364.8,295.6L364.4,296.2L364.3,297.0L364.4,297.7L365.8,301.7L366.3,302.6L367.1,303.1L372.8,305.2L373.7,305.4L374.6,305.1L375.3,304.5L376.3,303.2L376.7,302.6L376.8,301.9L376.8,292.5L376.6,291.6L376.1,290.9L375.3,290.4L374.4,290.3L373.5,290.6ZM364.4,303.9L364.8,303.3L365.0,302.6L364.8,301.8L363.3,297.2L362.7,296.3L361.9,295.8L359.5,295.0L358.7,294.9L357.9,295.0L357.3,295.5L356.8,296.1L352.2,305.3L352.0,306.2L352.2,307.1L352.7,307.9L353.4,308.4L357.6,309.9L358.5,310.0L359.3,309.8L360.0,309.2ZM367.3,304.2L366.5,304.0L365.6,304.3L364.9,304.8L360.7,309.8L360.3,310.6L360.2,311.5L360.5,312.3L362.0,314.7L362.4,315.3L363.1,315.7L363.9,315.8L364.6,315.7L373.0,312.6L373.7,312.1L374.3,311.3L374.4,310.3L374.2,308.0L374.0,307.2L373.5,306.6L372.8,306.2ZM353.5,326.9L354.5,327.1L355.5,326.7L360.4,323.7L361.1,323.0L361.4,322.2L362.1,317.7L362.1,317.0L361.8,316.2L359.3,312.0L358.8,311.4L358.2,311.1L351.2,308.5L350.5,308.4L349.8,308.4L349.6,308.5L348.9,308.8L348.4,309.4L348.1,310.1L348.0,310.8L349.5,324.0L349.7,324.8L350.2,325.4L350.8,325.8ZM364.3,316.7L363.6,317.1L363.2,317.7L362.9,318.4L362.4,321.6L362.5,322.5L362.9,323.3L363.6,323.9L372.4,328.4L373.2,328.6L374.1,328.5L374.9,328.1L375.4,327.3L379.1,319.1L379.3,318.2L379.2,317.4L378.7,316.6L375.9,313.8L375.2,313.4L374.4,313.2L373.6,313.3ZM378.7,303.4L377.9,303.5L377.2,303.7L376.7,304.3L375.5,305.8L375.1,306.5L375.0,307.3L375.4,311.3L375.6,312.0L376.0,312.7L379.7,316.3L380.5,316.9L381.5,317.0L382.9,316.8L383.8,316.4L384.4,315.8L384.7,315.0L386.1,306.8L386.1,305.9L385.7,305.1L385.1,304.5L384.3,304.2ZM385.7,314.7L385.7,315.5L386.0,316.2L386.5,316.8L387.2,317.2L389.5,317.9L390.4,317.9L391.4,317.6L399.0,312.2L399.6,311.7L399.9,310.9L399.9,310.1L399.7,309.4L399.2,308.8L392.5,303.1L391.7,302.6L390.8,302.6L390.0,302.9L388.3,303.9L387.6,304.6L387.3,305.4ZM378.0,287.6L377.7,288.7L377.7,300.5L377.8,301.2L378.2,301.9L378.8,302.4L379.6,302.6L386.1,303.6L386.9,303.6L387.6,303.3L389.9,301.9L390.4,301.4L390.8,300.7L390.9,300.0L390.8,284.6L390.6,283.8L390.2,283.1L389.4,282.6L388.6,282.4L382.3,282.4L381.6,282.6L380.9,283.0L380.4,283.5ZM391.8,300.3L392.0,301.2L392.6,301.9L401.6,309.7L402.3,310.0L403.1,310.2L407.9,310.2L408.7,310.0L409.4,309.5L409.9,308.8L410.1,308.0L410.1,284.6L409.9,283.8L409.4,283.1L408.7,282.6L407.9,282.4L393.9,282.4L393.1,282.6L392.3,283.1L391.9,283.8L391.7,284.7ZM375.6,329.2L375.4,330.0L375.5,330.8L375.9,331.5L376.5,332.0L377.3,332.3L389.9,333.9L390.8,333.8L391.6,333.4L392.1,332.7L392.9,331.2L393.1,330.5L393.1,329.7L390.5,320.2L390.2,319.5L389.7,319.0L389.0,318.7L385.3,317.5L384.3,317.5L381.8,317.8L381.1,318.1L380.5,318.5L380.1,319.1ZM402.9,311.1L402.2,311.2L401.7,311.5L392.3,318.0L391.7,318.6L391.4,319.5L391.5,320.3L393.5,327.9L393.9,328.6L394.5,329.2L395.3,329.5L396.2,329.4L408.4,326.1L409.3,325.7L409.8,324.9L410.1,324.0L410.1,313.3L409.9,312.4L409.4,311.7L408.7,311.2L407.8,311.1ZM347.1,310.4L346.8,309.6L346.3,308.9L345.5,308.5L343.8,308.0L342.8,307.9L341.9,308.3L341.2,309.0L334.8,320.0L334.6,320.8L334.6,321.6L335.0,322.4L335.6,322.9L341.0,326.4L341.8,326.7L342.7,326.7L346.8,325.7L347.6,325.4L348.1,324.8L348.5,324.1L348.5,323.3ZM392.6,333.8L392.4,334.6L392.5,335.5L395.3,344.4L395.7,345.2L396.5,345.8L397.4,345.9L407.9,345.9L408.7,345.8L409.4,345.3L409.9,344.6L410.1,343.8L410.1,329.5L409.9,328.7L409.5,328.0L408.8,327.5L408.1,327.3L407.3,327.4L395.0,330.7L394.2,331.1L393.6,331.8ZM338.1,344.3L338.1,345.2L338.4,346.0L338.9,346.6L339.7,347.0L340.6,347.0L353.9,345.1L354.7,344.9L355.3,344.3L355.7,343.5L355.8,342.7L354.3,329.4L354.1,328.7L353.6,328.1L352.9,327.7L349.9,326.4L349.2,326.2L348.5,326.2L343.4,327.4L342.7,327.8L342.1,328.3L341.8,329.1ZM356.4,339.9L356.6,340.7L357.1,341.3L357.8,341.7L358.6,341.9L359.4,341.7L372.8,336.0L373.5,335.6L374.0,334.9L374.7,333.3L374.8,332.5L374.7,331.7L374.6,331.2L374.2,330.5L373.5,330.0L362.8,324.5L362.1,324.3L361.3,324.3L360.6,324.6L356.2,327.3L355.6,327.9L355.2,328.6L355.2,329.5ZM272.4,356.1L272.6,356.9L273.1,357.6L273.8,358.1L274.6,358.3L275.4,358.1L282.0,355.7L282.8,355.3L283.3,354.5L288.5,342.1L288.7,341.4L288.6,340.6L288.2,340.0L287.6,339.4L285.1,337.8L284.3,337.5L283.5,337.5L274.2,339.3L273.5,339.6L273.0,340.0L272.6,340.7L272.4,341.4ZM312.8,344.3L312.2,344.2L311.5,344.3L305.0,346.3L304.2,346.7L303.7,347.4L298.5,357.6L298.3,358.4L298.4,359.3L299.8,363.3L300.2,364.0L300.8,364.5L301.5,364.8L314.3,366.8L315.3,366.8L316.1,366.4L316.7,365.6L316.9,364.7L316.9,347.3L316.7,346.4L316.2,345.6L315.4,345.2ZM298.9,365.8L299.2,364.9L299.1,363.9L297.7,360.0L297.3,359.3L296.7,358.8L296.0,358.5L283.9,356.3L282.8,356.4L276.8,358.6L276.0,359.1L275.5,359.8L275.3,360.6L275.5,361.5L276.0,362.2L284.3,370.6L285.0,371.0L285.8,371.2L294.5,371.2L295.3,371.1L295.9,370.7L296.4,370.1ZM317.8,365.4L318.0,366.2L318.5,367.0L319.3,367.4L320.2,367.5L327.7,367.0L328.7,366.7L329.4,366.0L337.2,354.2L337.6,353.0L337.6,349.2L337.4,348.3L336.8,347.5L336.0,347.1L325.0,343.8L323.8,343.9L319.3,345.2L318.5,345.7L318.0,346.4L317.8,347.3ZM330.6,365.8L330.3,366.7L330.4,367.7L330.9,368.6L335.9,373.5L336.6,374.0L337.5,374.2L338.4,373.9L339.1,373.4L345.0,366.5L345.5,365.6L345.5,364.6L345.1,363.7L340.0,357.0L339.3,356.5L338.5,356.2L337.7,356.2L337.0,356.6L336.4,357.2ZM316.9,370.3L316.9,369.5L316.5,368.7L315.9,368.2L315.1,367.9L301.6,365.7L300.8,365.7L300.0,366.1L299.4,366.8L297.0,370.9L296.7,371.7L296.7,372.6L299.7,384.4L300.1,385.2L300.9,385.8L301.8,386.1L313.0,386.1L313.8,385.9L314.5,385.5L315.0,384.9L315.2,384.1ZM296.1,373.8L295.7,372.9L294.9,372.3L294.0,372.1L286.8,372.1L285.9,372.3L285.1,372.9L284.7,373.8L282.3,383.3L282.2,384.1L282.5,384.9L282.9,385.5L283.6,385.9L284.4,386.1L296.4,386.1L297.1,385.9L297.8,385.5L298.3,384.9L298.6,384.1L298.5,383.3ZM337.3,376.7L336.7,375.6L329.6,368.5L328.8,368.0L327.9,367.9L319.9,368.5L318.9,368.8L318.2,369.5L317.8,370.4L316.2,383.6L316.3,384.5L316.7,385.3L317.5,385.9L318.4,386.1L336.6,386.1L337.4,385.9L338.0,385.5L338.5,384.9L338.8,384.2L338.8,383.4ZM276.2,363.7L275.5,363.3L274.6,363.1L273.8,363.3L273.1,363.7L272.6,364.5L272.4,365.3L272.4,383.9L272.6,384.7L273.1,385.4L273.8,385.9L274.6,386.1L278.9,386.1L279.9,385.8L280.6,385.2L281.1,384.4L283.9,373.0L284.0,372.2L283.8,371.5L283.4,370.9ZM285.0,352.9L284.8,353.7L284.9,354.4L285.3,355.1L285.9,355.6L286.6,355.9L295.7,357.6L296.6,357.6L297.5,357.1L298.1,356.4L302.2,348.2L302.5,347.4L302.4,346.6L302.0,345.8L301.4,345.3L294.2,340.9L292.9,340.6L291.5,340.6L290.7,340.8L290.0,341.3L289.5,342.0ZM357.8,343.4L357.0,343.9L356.5,344.7L356.5,345.7L356.8,346.6L360.8,352.8L361.3,353.4L362.0,353.7L362.8,353.8L375.8,352.7L376.5,352.5L377.2,352.1L377.6,351.4L377.8,350.7L377.7,349.9L374.4,339.0L374.0,338.2L373.2,337.6L372.3,337.4L371.4,337.6ZM379.2,351.8L379.6,352.5L380.2,353.0L381.2,353.6L382.2,353.9L383.2,353.8L391.2,350.3L392.0,349.7L394.1,347.2L394.5,346.6L394.7,345.9L394.6,345.1L391.8,336.3L391.4,335.6L390.8,335.1L390.0,334.8L377.4,333.2L376.5,333.3L375.7,333.8L375.1,334.5L374.8,335.3L374.6,336.1L374.7,336.8ZM359.6,365.1L359.6,366.0L359.9,366.8L360.5,367.4L361.3,367.7L378.3,370.8L379.2,370.8L380.1,370.4L380.6,369.7L380.9,368.8L381.6,356.3L381.5,355.5L381.2,354.8L380.6,354.3L379.6,353.7L378.9,353.4L378.3,353.4L363.3,354.7L362.4,354.9L361.7,355.6L361.3,356.4ZM356.0,347.0L355.4,346.4L354.7,346.1L353.9,346.0L340.4,347.9L339.7,348.2L339.0,348.7L338.6,349.3L338.5,350.1L338.5,352.9L338.6,353.6L339.0,354.3L346.5,364.0L347.1,364.6L347.8,364.8L356.2,366.3L357.0,366.3L357.8,366.0L358.4,365.4L358.7,364.6L360.6,355.3L360.6,354.5L360.3,353.7ZM383.8,354.5L383.2,354.9L382.7,355.6L382.5,356.4L381.8,368.2L382.0,369.1L382.4,369.8L383.2,370.3L384.0,370.5L399.0,370.5L399.9,370.3L400.6,369.8L401.1,369.0L401.2,368.1L400.9,367.2L392.7,352.8L392.2,352.1L391.5,351.8L390.7,351.6L389.9,351.8ZM396.6,346.8L395.7,347.1L395.0,347.6L393.5,349.3L393.1,350.1L393.0,351.0L393.2,351.9L403.5,370.0L403.9,370.5L404.5,370.9L406.9,372.0L407.8,372.2L408.6,372.1L409.4,371.6L409.9,370.9L410.1,370.0L410.1,349.0L409.9,348.2L409.4,347.5L408.7,347.0L407.9,346.8ZM339.9,384.3L340.3,385.2L341.1,385.8L342.0,386.1L342.4,386.1L343.4,385.8L344.2,385.2L355.7,370.4L356.0,369.6L356.1,368.7L355.8,367.9L355.1,367.2L354.3,366.9L348.1,365.8L347.4,365.8L346.7,366.1L346.1,366.6L338.8,375.2L338.3,376.1L338.3,377.1ZM363.2,369.0L362.4,369.0L361.6,369.3L361.0,370.0L360.7,370.8L360.7,371.6L363.7,384.4L364.2,385.2L364.9,385.8L365.9,386.1L377.3,386.1L378.1,385.9L378.8,385.4L379.3,384.8L379.5,384.0L380.1,374.0L380.0,373.2L379.6,372.5L379.0,372.0L378.3,371.7ZM383.2,371.4L382.4,371.6L381.7,372.0L381.2,372.7L381.0,373.5L380.4,383.7L380.6,384.6L381.0,385.4L381.8,385.9L382.6,386.1L407.9,386.1L408.7,385.9L409.4,385.4L409.9,384.7L410.1,383.9L410.1,375.9L409.9,375.1L409.5,374.4L408.8,373.9L403.9,371.6L403.0,371.4ZM359.9,372.2L359.6,371.5L359.0,370.9L358.3,370.6L357.4,370.6L356.7,370.8L356.0,371.4L347.4,382.5L347.0,383.2L346.9,384.0L347.2,384.8L347.7,385.5L348.3,385.9L349.1,386.1L360.4,386.1L361.2,385.9L361.9,385.5L362.4,384.9L362.6,384.1L362.6,383.3Z" fill="url(#gradPCL)"/>
<circle cx="359.3" cy="367.8" r="0.83" fill="#D840A8"/><circle cx="358.7" cy="367.2" r="0.73" fill="#D840A8"/><circle cx="346.7" cy="365.1" r="0.89" fill="#D840A8"/><circle cx="337.6" cy="375.9" r="0.85" fill="#A03080"/><circle cx="283.1" cy="301.5" r="0.87" fill="#D840A8"/><circle cx="338.1" cy="353.8" r="0.89" fill="#A03080"/><circle cx="297.6" cy="358.4" r="0.62" fill="#A03080"/><circle cx="381.2" cy="371.0" r="0.90" fill="#D840A8"/><circle cx="312.2" cy="343.6" r="0.64" fill="#A03080"/><circle cx="324.4" cy="343.2" r="0.68" fill="#A03080"/><circle cx="341.7" cy="327.4" r="0.95" fill="#D840A8"/><circle cx="393.8" cy="330.5" r="0.82" fill="#A03080"/><circle cx="361.7" cy="323.4" r="0.62" fill="#D840A8"/><circle cx="377.2" cy="302.8" r="0.82" fill="#D840A8"/><circle cx="390.6" cy="318.7" r="0.77" fill="#A03080"/><circle cx="384.9" cy="316.9" r="0.69" fill="#D840A8"/>
</g>
<text x="282.00" y="294.00" font-size="8.2" font-family='"Liberation Serif", serif' font-weight="bold" fill="#000" text-anchor="start"  textLength="16.10" lengthAdjust="spacingAndGlyphs">PCL</text>
<line x1="386.00" y1="382.40" x2="406.50" y2="382.40" stroke="#111" stroke-width="1.1" />
<linearGradient id="gradPCH" gradientUnits="userSpaceOnUse" x1="411.0" y1="0" x2="544.0" y2="0"><stop offset="0" stop-color="#D2CFD9"/><stop offset="0.35" stop-color="#DBCCE0"/><stop offset="0.7" stop-color="#E2CAE4"/><stop offset="1" stop-color="#E4CAE5"/></linearGradient>
<clipPath id="clipPCH"><rect x="411.0" y="285.0" width="133.00" height="98.50"/></clipPath>
<g clip-path="url(#clipPCH)">
<rect x="411.0" y="285.0" width="133.00" height="98.50" fill="#EE66C8"/>
<path d="M419.3,297.9L419.9,298.1L420.5,298.1L430.3,296.6L430.9,296.4L431.4,295.9L431.8,295.4L433.2,292.2L433.3,291.1L432.4,284.2L432.2,283.5L431.8,282.9L431.2,282.6L430.5,282.4L410.4,282.4L409.7,282.6L409.0,283.0L408.6,283.7L408.4,284.4L408.4,290.9L408.6,291.6L408.9,292.2L409.5,292.7ZM450.4,298.1L450.5,297.2L450.3,296.4L449.6,294.9L449.2,294.4L448.6,294.0L448.0,293.8L435.6,292.4L434.8,292.5L434.1,292.9L433.6,293.6L432.6,295.9L432.4,296.8L432.6,297.6L435.4,303.2L435.8,303.8L436.4,304.2L439.4,305.4L440.5,305.6L446.6,304.6L447.3,304.4L447.8,303.9L448.2,303.4ZM452.9,297.7L452.1,297.8L451.4,298.2L451.0,298.9L449.0,303.7L448.8,304.4L448.9,305.0L449.2,305.6L452.1,309.8L452.7,310.3L453.5,310.6L460.3,311.2L461.2,311.1L461.9,310.7L464.5,308.1L464.9,307.4L465.0,306.5L464.7,305.6L460.4,298.6L459.9,298.1L459.3,297.8L458.7,297.6ZM465.7,305.6L466.2,306.1L466.9,306.4L467.6,306.5L469.4,306.4L470.1,306.2L470.7,305.8L471.1,305.3L474.9,297.9L475.1,297.1L475.0,296.3L474.7,295.7L474.0,295.2L466.9,291.6L466.2,291.4L465.5,291.5L464.9,291.7L464.4,292.2L461.4,296.1L461.1,296.8L461.0,297.6L461.3,298.4ZM422.2,298.8L421.5,299.0L420.9,299.6L420.6,300.2L420.5,301.0L421.4,308.6L421.6,309.3L422.1,309.9L422.7,310.3L426.8,311.6L427.6,311.7L428.3,311.5L428.9,311.0L434.0,305.2L434.4,304.5L434.5,303.7L434.3,303.0L432.1,298.6L431.6,298.0L430.8,297.6L430.0,297.5ZM419.7,310.7L420.2,310.2L420.5,309.6L420.5,308.9L419.5,300.0L419.2,299.1L418.5,298.5L411.4,294.7L410.6,294.5L409.8,294.6L409.1,295.0L408.6,295.7L408.4,296.5L408.4,315.2L408.6,315.9L409.0,316.5L409.6,317.0L410.3,317.2L411.0,317.1L411.7,316.8ZM442.0,306.2L441.4,306.5L440.8,306.9L440.5,307.5L440.3,308.2L440.3,315.7L440.5,316.6L441.1,317.3L441.9,317.7L446.6,318.8L447.3,318.9L448.0,318.7L448.5,318.3L448.9,317.7L451.4,312.0L451.6,311.4L451.5,310.7L451.2,310.1L448.6,306.3L448.0,305.8L447.4,305.5L446.6,305.5ZM471.6,324.3L472.5,324.0L473.1,323.3L477.4,315.7L477.7,314.9L477.6,314.0L477.1,313.3L471.3,307.8L470.6,307.4L469.8,307.2L467.1,307.4L466.4,307.6L465.8,308.0L462.6,311.2L462.2,312.0L462.1,313.0L464.1,323.2L464.4,323.9L464.9,324.5L465.0,324.6L465.7,324.9L466.4,324.9ZM428.6,320.1L429.1,319.5L429.4,318.7L429.3,317.9L428.2,313.9L427.7,313.1L426.9,312.6L422.2,311.1L421.2,311.0L420.3,311.4L409.2,319.7L408.7,320.4L408.4,321.3L408.4,323.7L408.6,324.5L409.0,325.1L409.6,325.6L410.4,325.7L419.9,326.0L420.6,325.9L421.2,325.6ZM429.4,311.9L429.1,312.4L429.0,313.1L429.0,313.7L430.3,318.1L430.8,318.9L431.6,319.4L433.6,320.2L434.5,320.3L435.4,320.0L438.5,318.0L439.0,317.6L439.3,317.0L439.4,316.3L439.4,307.8L439.3,307.0L438.9,306.3L438.2,305.9L436.9,305.3L436.0,305.2L435.2,305.4L434.6,305.9ZM448.5,321.1L448.0,320.3L447.1,319.9L440.8,318.3L440.0,318.3L439.3,318.6L436.5,320.4L435.9,321.0L435.6,321.8L435.6,322.7L437.4,327.9L437.7,328.5L438.2,329.0L438.9,329.3L439.5,329.3L448.3,328.1L449.1,327.7L449.8,327.0L449.9,326.8L450.1,326.0L450.0,325.1ZM461.2,324.2L462.0,323.9L462.6,323.4L462.9,322.6L462.9,321.8L461.3,313.7L461.0,312.9L460.4,312.3L459.5,312.1L454.1,311.6L453.2,311.7L452.5,312.1L452.1,312.8L449.3,319.0L449.1,319.8L449.3,320.5L450.5,324.0L451.0,324.8L451.8,325.2L452.7,325.3ZM431.3,320.3L430.7,320.2L430.0,320.3L429.5,320.6L423.3,325.1L422.8,325.8L422.5,326.6L422.7,327.5L423.1,328.2L430.9,335.7L431.5,336.1L432.2,336.2L433.0,336.1L433.6,335.8L434.1,335.2L436.6,330.7L436.9,329.9L436.8,329.1L434.6,322.3L434.1,321.5L433.3,321.0ZM434.1,289.8L434.4,290.6L435.0,291.2L435.8,291.5L447.1,292.8L447.9,292.8L448.6,292.5L449.1,291.9L449.3,291.2L450.5,284.8L450.4,283.9L450.0,283.2L449.3,282.6L448.5,282.4L435.4,282.4L434.6,282.6L433.9,283.1L433.5,283.9L433.4,284.7ZM450.0,292.8L449.9,293.5L450.1,294.1L450.9,295.7L451.4,296.2L452.0,296.6L452.7,296.8L458.8,296.8L459.7,296.5L460.4,296.0L464.2,290.9L464.6,290.2L464.6,289.4L463.8,284.1L463.5,283.5L463.1,282.9L462.5,282.6L461.8,282.4L453.5,282.4L452.8,282.6L452.2,282.9L451.7,283.5L451.5,284.1ZM465.5,289.0L465.8,289.9L466.6,290.5L474.3,294.3L475.1,294.5L475.8,294.4L476.5,294.1L477.0,293.5L477.2,292.8L478.2,284.7L478.1,283.9L477.7,283.1L477.0,282.6L476.2,282.4L466.8,282.4L465.9,282.6L465.2,283.2L464.8,283.9L464.8,284.8ZM490.6,304.3L490.5,305.1L490.8,305.9L491.4,306.5L492.1,306.8L500.1,308.4L500.9,308.4L501.7,308.1L504.9,305.8L505.4,305.3L505.7,304.6L505.7,303.9L504.8,298.4L504.6,297.7L504.1,297.2L503.4,296.8L495.6,294.5L494.8,294.4L494.0,294.7L493.4,295.2L493.1,295.9ZM478.3,291.3L478.3,292.0L478.6,292.7L479.2,293.2L479.8,293.5L480.6,293.5L490.5,292.1L491.2,291.8L491.8,291.4L492.1,290.8L492.2,290.1L492.2,284.4L492.1,283.7L491.7,283.0L491.0,282.6L490.2,282.4L481.1,282.4L480.4,282.6L479.8,283.0L479.3,283.5L479.1,284.2ZM493.1,291.4L493.3,292.2L493.8,292.9L494.6,293.3L503.6,296.0L504.4,296.0L505.1,295.8L505.7,295.4L514.1,285.8L514.5,285.1L514.6,284.4L514.5,283.6L514.0,283.0L513.4,282.6L512.6,282.4L495.1,282.4L494.4,282.6L493.7,283.0L493.3,283.7L493.1,284.4ZM525.3,300.0L525.9,301.0L527.3,302.1L528.2,302.6L544.2,305.3L545.1,305.3L545.8,304.9L546.4,304.2L546.5,303.4L546.5,284.4L546.4,283.7L546.0,283.0L545.3,282.6L544.5,282.4L522.5,282.4L521.8,282.6L521.2,283.0L520.7,283.6L520.5,284.3L520.6,285.0ZM510.0,306.3L510.7,306.5L511.5,306.3L522.9,301.3L523.5,300.9L523.9,300.3L524.1,299.6L524.0,298.9L519.8,285.3L519.4,284.6L518.7,284.1L517.9,283.9L517.0,284.1L516.4,284.6L506.1,296.3L505.7,297.0L505.6,297.9L506.7,303.9L506.9,304.6L507.3,305.1L507.9,305.4ZM520.9,317.7L521.6,317.5L522.1,317.0L522.5,316.4L526.5,304.4L526.6,303.6L526.4,302.9L526.0,302.2L525.3,301.8L524.6,301.7L523.8,301.9L513.0,306.7L512.4,307.1L512.0,307.7L511.8,308.4L511.9,309.1L514.6,317.1L514.9,317.7L515.4,318.2L516.1,318.4L516.8,318.4ZM545.7,311.9L546.3,311.2L546.5,310.2L546.5,308.3L546.4,307.6L546.1,307.0L545.5,306.6L544.9,306.4L529.5,303.7L528.8,303.7L528.1,303.9L527.6,304.4L527.2,305.0L523.4,316.4L523.3,317.3L523.5,318.0L524.1,318.7L528.2,321.9L529.0,322.3L529.8,322.3L530.6,322.0ZM472.1,305.3L471.9,306.1L472.0,307.0L472.5,307.7L478.2,313.1L479.0,313.6L479.9,313.7L483.8,313.2L484.6,312.9L485.2,312.3L487.8,308.3L488.1,307.6L488.1,306.9L487.9,306.2L487.4,305.6L478.3,298.4L477.6,298.0L476.7,298.0L475.9,298.4L475.3,299.0ZM488.9,318.4L489.4,318.9L490.0,319.2L490.7,319.2L498.7,318.6L499.5,318.4L500.1,318.0L500.5,317.4L500.6,316.6L500.6,311.1L500.4,310.2L499.8,309.5L499.0,309.1L491.0,307.5L490.2,307.5L489.5,307.8L488.9,308.3L486.2,312.3L485.9,313.1L485.9,313.8L486.2,314.6ZM501.5,317.3L501.7,318.0L502.1,318.7L502.7,319.1L503.5,319.3L511.6,319.3L512.3,319.1L512.9,318.7L513.4,318.1L513.6,317.4L513.5,316.6L510.7,308.3L510.2,307.6L509.6,307.1L507.5,306.3L506.8,306.1L506.2,306.2L505.6,306.5L502.4,308.7L501.7,309.4L501.5,310.3ZM480.9,332.8L481.7,333.3L482.5,333.4L483.4,333.2L487.5,330.9L488.1,330.5L488.5,329.9L488.6,329.2L488.8,320.6L488.8,319.9L488.5,319.4L485.4,314.9L484.9,314.4L484.2,314.1L483.5,314.1L480.1,314.5L479.2,314.9L478.6,315.5L474.2,323.3L473.9,324.1L474.0,324.9L474.4,325.6ZM489.5,328.8L489.7,329.6L490.2,330.3L490.9,330.7L497.9,332.8L498.6,332.9L499.3,332.7L499.9,332.3L500.3,331.7L500.5,331.0L501.2,321.6L501.0,320.8L500.6,320.1L499.9,319.6L499.0,319.5L491.6,320.1L490.8,320.2L490.3,320.7L489.9,321.3L489.7,322.0ZM501.5,329.3L501.6,330.1L502.1,330.9L502.8,331.3L503.7,331.4L511.3,330.8L512.0,330.6L512.5,330.2L512.9,329.6L513.1,328.9L513.7,322.3L513.6,321.5L513.2,320.8L512.5,320.3L511.7,320.2L504.0,320.2L503.3,320.3L502.7,320.7L502.2,321.3L502.0,322.0ZM516.4,319.4L515.6,319.7L515.0,320.4L514.7,321.2L513.9,330.0L514.0,330.8L514.5,331.5L516.2,333.3L516.8,333.8L517.6,334.0L518.4,333.8L527.7,330.0L528.3,329.6L528.7,328.9L528.9,328.2L528.9,324.6L528.7,323.7L528.1,323.0L523.0,319.0L522.3,318.6L521.4,318.6ZM530.7,323.0L530.0,323.7L529.8,324.7L529.8,328.8L530.0,329.5L530.4,330.2L532.4,332.1L533.2,332.5L534.1,332.6L544.9,330.6L545.6,330.4L546.1,330.0L546.4,329.4L546.5,328.7L546.5,316.1L546.4,315.4L546.1,314.8L545.5,314.4L544.8,314.2L544.1,314.2L543.4,314.5ZM480.2,294.4L479.5,294.7L478.9,295.2L478.6,295.9L478.5,296.7L478.8,297.4L479.3,298.0L486.9,304.0L487.6,304.4L488.3,304.5L489.1,304.2L489.7,303.7L490.0,303.0L492.2,295.6L492.3,294.8L492.0,294.0L491.5,293.4L490.8,293.1L490.0,293.0ZM429.1,339.4L429.8,339.0L430.3,338.3L430.6,337.5L430.4,336.7L429.9,336.0L421.1,327.5L420.5,327.1L419.8,326.9L410.5,326.6L409.7,326.8L409.1,327.2L408.6,327.8L408.4,328.6L408.4,342.3L408.6,343.1L409.0,343.7L409.5,344.1L410.2,344.3L411.0,344.3ZM433.8,337.4L433.6,338.1L433.6,338.8L433.9,339.5L435.2,341.6L435.6,342.0L436.1,342.4L440.3,344.0L441.2,344.2L442.1,343.8L450.0,338.6L450.5,338.0L450.8,337.3L450.8,336.5L449.6,330.7L449.3,330.0L448.8,329.4L448.1,329.1L447.4,329.1L438.8,330.3L438.0,330.6L437.4,331.3ZM464.8,327.2L464.8,326.4L464.5,325.8L464.0,325.2L463.3,324.9L462.6,324.9L452.1,326.3L451.2,326.6L450.6,327.3L450.4,327.8L450.2,328.4L450.2,329.1L451.8,336.7L452.2,337.6L452.9,338.1L458.0,340.4L458.9,340.5L459.8,340.3L462.3,338.7L463.0,338.1L463.3,337.3ZM470.7,340.5L471.3,340.6L472.0,340.5L472.6,340.2L479.0,335.2L479.5,334.5L479.7,333.7L479.6,332.9L479.2,332.2L473.4,325.8L472.6,325.3L471.7,325.2L467.5,325.7L466.6,326.0L466.0,326.6L465.7,327.4L464.3,336.6L464.3,337.3L464.6,337.9L465.0,338.4L465.6,338.8ZM413.2,344.6L412.5,345.0L412.0,345.6L411.7,346.4L411.8,347.2L412.3,347.9L412.9,348.3L425.5,354.0L426.2,354.2L426.9,354.1L427.5,353.7L428.0,353.2L434.0,343.5L434.3,342.8L434.3,342.1L434.0,341.4L433.5,340.6L432.9,340.0L432.1,339.7L431.3,339.7ZM441.3,346.0L440.8,345.4L440.2,345.0L437.0,343.7L436.3,343.5L435.6,343.6L435.0,343.9L434.5,344.5L428.3,354.5L428.0,355.3L428.1,356.2L429.5,360.5L429.8,361.1L430.4,361.6L431.0,361.8L431.8,361.8L439.9,360.3L440.6,360.1L441.2,359.6L441.5,358.9L443.5,352.2L443.6,351.5L443.4,350.8ZM446.2,352.2L445.5,352.2L444.9,352.5L444.4,352.9L444.1,353.6L442.4,359.2L442.3,359.9L442.4,360.6L442.9,361.2L447.3,365.6L447.9,366.1L448.6,366.2L449.4,366.1L455.1,364.0L455.8,363.6L456.2,363.0L456.4,362.2L456.4,355.2L456.3,354.5L455.9,353.9L455.3,353.4L454.7,353.2ZM457.3,362.4L457.4,363.1L457.8,363.7L458.3,364.2L464.7,367.7L465.3,367.9L466.0,367.9L466.6,367.7L468.8,366.4L469.4,366.0L469.7,365.4L469.8,364.7L470.0,355.5L469.8,354.6L469.3,353.9L468.5,353.5L460.3,351.5L459.6,351.4L458.9,351.6L458.3,352.1L457.8,352.6L457.4,353.3L457.3,354.0ZM416.5,366.8L417.5,366.8L427.5,363.8L428.2,363.4L428.7,362.8L428.9,362.0L428.8,361.2L427.2,356.4L426.8,355.7L426.1,355.2L411.3,348.6L410.5,348.4L409.7,348.6L409.1,349.0L408.6,349.6L408.4,350.4L408.4,363.3L408.6,364.2L409.2,364.8L410.0,365.2ZM452.7,339.0L452.0,338.8L451.3,338.9L450.7,339.2L443.3,344.1L442.8,344.6L442.5,345.3L442.4,346.0L442.6,346.6L444.1,350.0L444.5,350.6L445.0,351.0L445.7,351.2L455.6,352.4L456.6,352.3L457.4,351.8L458.0,351.1L458.4,350.5L458.5,349.7L458.5,342.9L458.4,342.1L457.9,341.5L457.3,341.1ZM431.7,362.8L430.9,363.1L430.3,363.7L430.0,364.4L430.1,365.2L432.0,372.5L432.4,373.3L433.1,373.8L434.0,374.0L444.3,374.0L445.2,373.8L445.9,373.3L446.3,372.5L447.3,368.3L447.3,367.6L447.2,367.0L446.8,366.4L442.1,361.7L441.3,361.2L440.3,361.2ZM464.9,370.4L464.9,369.6L464.5,368.8L463.9,368.3L457.6,364.8L456.8,364.6L456.0,364.7L449.4,367.0L448.6,367.6L448.2,368.4L446.9,373.8L446.8,374.4L447.0,375.0L451.1,384.8L451.5,385.5L452.2,385.9L452.9,386.1L460.7,386.1L461.4,385.9L462.0,385.6L462.4,385.0L462.7,384.4ZM429.4,366.3L429.1,365.6L428.5,365.1L427.7,364.8L426.9,364.9L419.5,367.1L418.8,367.5L418.4,368.1L418.1,368.9L418.2,369.7L420.3,375.7L420.6,376.3L421.1,376.8L421.8,377.0L422.5,377.0L429.7,375.8L430.5,375.5L431.1,374.9L431.4,374.2L431.3,373.3ZM433.9,374.9L433.1,375.1L432.4,375.6L432.0,376.3L431.9,377.1L432.7,384.3L432.9,385.0L433.3,385.5L433.9,385.9L434.6,386.1L447.6,386.1L448.4,385.9L449.0,385.5L449.5,384.8L449.6,384.0L449.5,383.3L446.5,376.1L446.0,375.5L445.4,375.1L444.6,374.9ZM460.4,341.0L459.9,341.4L459.5,342.0L459.4,342.7L459.4,348.8L459.6,349.6L460.1,350.3L460.9,350.7L469.3,352.8L469.9,352.9L470.6,352.7L471.1,352.4L472.5,351.1L473.0,350.5L473.2,349.8L473.1,349.2L471.7,342.8L471.4,342.2L471.0,341.7L470.4,341.4L464.5,339.3L463.6,339.2L462.8,339.5ZM419.6,378.6L419.8,377.7L419.7,376.9L417.0,368.9L416.7,368.3L416.2,367.8L415.6,367.6L410.9,366.4L410.2,366.4L409.5,366.6L409.0,367.0L408.6,367.6L408.4,368.3L408.4,384.1L408.6,384.8L409.0,385.5L409.7,385.9L410.4,386.1L414.1,386.1L414.8,385.9L415.4,385.6L415.8,385.0ZM431.2,378.6L430.9,377.9L430.4,377.3L429.7,376.9L428.9,376.9L421.7,378.1L420.9,378.4L420.3,379.0L418.0,383.1L417.7,383.8L417.8,384.7L418.2,385.4L418.9,385.9L419.7,386.1L429.7,386.1L430.5,385.9L431.2,385.4L431.6,384.7L431.7,383.8ZM473.3,340.8L472.8,341.3L472.6,342.1L472.6,342.8L473.9,348.7L474.3,349.4L474.9,349.9L475.6,350.2L481.7,351.0L482.5,350.9L483.3,350.5L485.4,348.6L485.9,348.0L486.1,347.3L486.0,346.5L482.9,336.7L482.6,336.0L482.0,335.5L481.2,335.3L480.5,335.3L479.8,335.7ZM484.6,333.5L484.1,334.0L483.7,334.5L483.5,335.2L483.6,335.9L486.8,346.2L487.2,346.9L487.8,347.4L488.6,347.6L495.9,348.2L496.7,348.1L497.3,347.8L499.0,346.5L499.5,346.0L499.7,345.4L499.8,344.7L498.8,335.3L498.6,334.5L498.1,333.9L497.4,333.6L489.8,331.4L489.1,331.3L488.3,331.5ZM500.6,344.3L500.9,345.1L501.4,345.7L502.2,346.0L506.5,347.0L507.3,347.0L508.0,346.7L515.7,341.7L516.1,341.2L516.4,340.7L516.5,340.0L516.5,335.8L516.4,335.1L516.0,334.5L513.9,332.2L513.1,331.7L512.2,331.6L501.6,332.5L501.0,332.7L500.5,333.0L500.4,333.1L499.8,333.9L499.7,334.8ZM517.5,340.1L517.7,341.0L518.2,341.7L526.4,348.0L527.0,348.4L527.7,348.5L528.4,348.3L531.3,347.1L531.9,346.6L532.4,346.0L532.5,345.2L532.5,334.3L532.3,333.5L531.9,332.9L530.2,331.2L529.5,330.8L528.8,330.7L528.0,330.8L518.7,334.7L518.0,335.1L517.6,335.7L517.5,336.5ZM535.0,333.3L534.4,333.6L533.9,334.0L533.5,334.6L533.4,335.3L533.4,345.0L533.6,345.8L534.1,346.5L534.8,346.9L544.0,349.6L544.7,349.6L545.4,349.4L546.0,349.0L546.4,348.4L546.5,347.6L546.5,333.7L546.4,332.8L545.8,332.1L545.1,331.7L544.2,331.7ZM484.0,351.1L483.5,351.8L483.4,352.8L484.6,363.2L484.9,363.9L485.3,364.4L485.9,364.8L486.6,364.9L494.4,364.9L495.2,364.8L495.8,364.4L496.2,363.7L496.4,362.9L496.4,351.0L496.3,350.3L495.9,349.6L495.3,349.2L494.6,349.0L487.9,348.4L487.1,348.5L486.4,348.9ZM498.1,348.4L497.5,349.1L497.3,349.9L497.3,362.6L497.4,363.4L497.8,364.0L498.4,364.4L499.1,364.6L506.3,365.2L507.2,365.1L507.9,364.6L508.3,364.0L510.8,357.9L510.9,357.1L510.8,356.3L507.5,349.0L506.9,348.3L506.1,347.9L501.4,346.8L500.5,346.8L499.7,347.1ZM511.3,355.2L511.8,355.9L512.5,356.3L513.3,356.4L523.4,355.2L524.0,354.9L524.6,354.5L525.0,353.9L526.2,350.8L526.3,350.0L526.1,349.2L525.5,348.5L518.1,342.8L517.4,342.4L516.5,342.4L515.8,342.7L509.4,346.9L508.9,347.4L508.6,348.0L508.5,348.7L508.7,349.4ZM525.0,357.6L524.7,357.0L524.1,356.5L523.5,356.2L522.8,356.1L513.1,357.3L512.4,357.6L511.9,358.0L511.5,358.6L509.1,364.6L508.9,365.3L509.0,366.0L509.4,366.6L510.2,367.7L510.7,368.1L511.3,368.4L512.0,368.4L525.0,367.1L525.8,366.8L526.4,366.2L526.7,365.4L526.7,364.6ZM527.9,365.7L528.3,366.4L528.9,366.9L529.6,367.2L530.4,367.2L545.0,363.4L545.8,363.1L546.4,362.4L546.5,361.5L546.5,352.7L546.4,351.9L545.9,351.2L545.1,350.8L533.7,347.5L533.0,347.5L532.3,347.6L528.4,349.3L527.7,349.7L527.3,350.4L525.6,354.9L525.4,355.5L525.5,356.1ZM471.5,353.2L471.1,353.9L470.9,354.6L470.8,364.0L470.9,364.7L471.2,365.3L471.8,365.8L472.4,366.0L480.2,367.3L481.1,367.3L481.8,366.9L483.1,365.9L483.6,365.4L483.8,364.8L483.9,364.1L482.5,353.5L482.2,352.7L481.6,352.1L480.8,351.8L475.0,351.0L474.1,351.1L473.3,351.5ZM495.7,367.8L495.5,367.1L495.1,366.4L494.5,366.0L493.7,365.8L485.3,365.8L484.7,366.0L484.1,366.3L482.6,367.5L482.1,368.0L481.8,368.6L481.8,369.2L483.3,384.3L483.5,385.0L484.0,385.5L484.6,385.9L485.3,386.1L493.7,386.1L494.5,385.9L495.1,385.5L495.5,384.8L495.7,384.1ZM498.8,365.5L497.9,365.6L497.2,366.0L496.8,366.7L496.6,367.5L496.6,384.1L496.8,384.8L497.2,385.5L497.8,385.9L498.6,386.1L508.2,386.1L509.0,385.9L509.7,385.5L510.1,384.8L510.2,384.1L510.2,369.9L510.1,369.2L509.8,368.6L508.4,366.9L507.8,366.4L507.0,366.2ZM528.3,369.8L528.1,369.0L527.6,368.3L526.9,367.9L526.1,367.8L512.9,369.2L512.2,369.4L511.7,369.9L511.3,370.5L511.1,371.2L511.1,384.1L511.3,384.8L511.7,385.5L512.4,385.9L513.1,386.1L526.3,386.1L527.1,385.9L527.7,385.5L528.1,384.8L528.3,384.1ZM530.7,368.0L529.9,368.4L529.4,369.1L529.2,369.9L529.2,384.1L529.4,384.8L529.8,385.5L530.4,385.9L531.2,386.1L544.5,386.1L545.3,385.9L546.0,385.5L546.4,384.8L546.5,384.1L546.5,366.6L546.4,365.9L546.0,365.2L545.5,364.8L544.8,364.6L544.1,364.6ZM481.0,369.9L480.7,369.0L480.1,368.4L479.3,368.1L471.1,366.7L470.4,366.7L469.7,366.9L466.9,368.5L466.2,369.1L465.9,370.0L463.7,383.7L463.7,384.6L464.1,385.3L464.8,385.9L465.6,386.1L480.4,386.1L481.2,385.9L481.9,385.4L482.3,384.7L482.4,383.8Z" fill="url(#gradPCH)"/>
<circle cx="508.1" cy="365.8" r="0.83" fill="#E040B0"/><circle cx="496.1" cy="365.4" r="0.73" fill="#E040B0"/><circle cx="484.5" cy="365.4" r="0.89" fill="#E040B0"/><circle cx="417.0" cy="367.4" r="0.85" fill="#A03080"/><circle cx="420.5" cy="377.8" r="0.87" fill="#E040B0"/><circle cx="511.6" cy="357.1" r="0.89" fill="#A03080"/><circle cx="432.1" cy="374.4" r="0.62" fill="#A03080"/><circle cx="420.8" cy="326.5" r="0.90" fill="#E040B0"/><circle cx="532.9" cy="333.3" r="0.64" fill="#A03080"/><circle cx="529.4" cy="329.8" r="0.68" fill="#A03080"/><circle cx="527.8" cy="367.2" r="0.95" fill="#E040B0"/><circle cx="435.2" cy="342.5" r="0.85" fill="#E040B0"/><circle cx="441.3" cy="344.9" r="0.62" fill="#E040B0"/><circle cx="441.5" cy="360.5" r="0.82" fill="#E040B0"/><circle cx="448.1" cy="367.1" r="0.77" fill="#A03080"/><circle cx="456.8" cy="363.9" r="0.69" fill="#E040B0"/><circle cx="482.6" cy="334.1" r="0.93" fill="#E040B0"/><circle cx="484.9" cy="313.5" r="0.59" fill="#E040B0"/>
</g>
<text x="417.40" y="294.10" font-size="8.2" font-family='"Liberation Serif", serif' font-weight="bold" fill="#000" text-anchor="start"  textLength="16.10" lengthAdjust="spacingAndGlyphs">PCH</text>
<line x1="522.50" y1="382.40" x2="543.00" y2="382.40" stroke="#111" stroke-width="1.1" />
</svg>
</body></html>
